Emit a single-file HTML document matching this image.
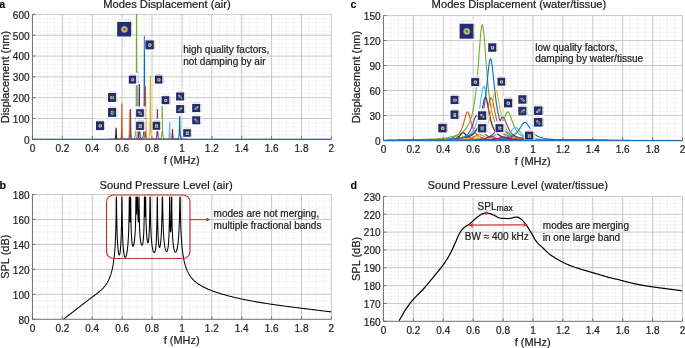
<!DOCTYPE html>
<html><head><meta charset="utf-8"><style>
html,body{margin:0;padding:0;background:#fff;}
body{width:685px;height:348px;overflow:hidden;}
svg{display:block;will-change:transform;}
text{font-family:"Liberation Sans", sans-serif;fill:#222;stroke:#222;stroke-width:0.22;}
.tl{font-size:10px;}
.an{font-size:10px;}
.ti{font-size:11.2px;fill:#1a1a1a;}
.xl{font-size:11px;}
.pl{font-size:10.7px;font-weight:bold;fill:#000;stroke-width:0.1;stroke:#000;}
.mj{stroke:#bababa;stroke-width:0.8;}
.mn{stroke:#e6e6e6;stroke-width:0.6;stroke-dasharray:2.2 1.2;}
.ax{stroke:#707070;stroke-width:1.0;}
.tk{stroke:#5a5a5a;stroke-width:0.8;}
</style></head><body>
<svg width="685" height="348" viewBox="0 0 685 348">
<defs>
<radialGradient id="spot"><stop offset="0" stop-color="#c41a1a"/><stop offset="0.22" stop-color="#e0561c"/><stop offset="0.45" stop-color="#e6c832"/><stop offset="0.62" stop-color="#66c4b0"/><stop offset="0.8" stop-color="#3a6cc0"/><stop offset="1" stop-color="#282a6d" stop-opacity="0"/></radialGradient>
<radialGradient id="spot2"><stop offset="0" stop-color="#d9481c"/><stop offset="0.4" stop-color="#e2b52c"/><stop offset="0.75" stop-color="#7cc48c"/><stop offset="1" stop-color="#5c9ac0" stop-opacity="0"/></radialGradient>
<radialGradient id="halo"><stop offset="0" stop-color="#6fb9b4"/><stop offset="0.6" stop-color="#3f72b8"/><stop offset="1" stop-color="#282a6d" stop-opacity="0"/></radialGradient>
<linearGradient id="cbar" x1="0" y1="0" x2="0" y2="1"><stop offset="0" stop-color="#eba8a8"/><stop offset="0.3" stop-color="#f3e29c"/><stop offset="0.55" stop-color="#c8ecc0"/><stop offset="0.75" stop-color="#ace0ee"/><stop offset="1" stop-color="#b4b8e2"/></linearGradient>
</defs>
<line x1="39.92" y1="14.4" x2="39.92" y2="139.35" class="mn"/>
<line x1="47.4" y1="14.4" x2="47.4" y2="139.35" class="mn"/>
<line x1="54.87" y1="14.4" x2="54.87" y2="139.35" class="mn"/>
<line x1="69.82" y1="14.4" x2="69.82" y2="139.35" class="mn"/>
<line x1="77.29" y1="14.4" x2="77.29" y2="139.35" class="mn"/>
<line x1="84.77" y1="14.4" x2="84.77" y2="139.35" class="mn"/>
<line x1="99.71" y1="14.4" x2="99.71" y2="139.35" class="mn"/>
<line x1="107.19" y1="14.4" x2="107.19" y2="139.35" class="mn"/>
<line x1="114.66" y1="14.4" x2="114.66" y2="139.35" class="mn"/>
<line x1="129.61" y1="14.4" x2="129.61" y2="139.35" class="mn"/>
<line x1="137.08" y1="14.4" x2="137.08" y2="139.35" class="mn"/>
<line x1="144.56" y1="14.4" x2="144.56" y2="139.35" class="mn"/>
<line x1="159.5" y1="14.4" x2="159.5" y2="139.35" class="mn"/>
<line x1="166.98" y1="14.4" x2="166.98" y2="139.35" class="mn"/>
<line x1="174.45" y1="14.4" x2="174.45" y2="139.35" class="mn"/>
<line x1="189.4" y1="14.4" x2="189.4" y2="139.35" class="mn"/>
<line x1="196.87" y1="14.4" x2="196.87" y2="139.35" class="mn"/>
<line x1="204.35" y1="14.4" x2="204.35" y2="139.35" class="mn"/>
<line x1="219.29" y1="14.4" x2="219.29" y2="139.35" class="mn"/>
<line x1="226.77" y1="14.4" x2="226.77" y2="139.35" class="mn"/>
<line x1="234.24" y1="14.4" x2="234.24" y2="139.35" class="mn"/>
<line x1="249.19" y1="14.4" x2="249.19" y2="139.35" class="mn"/>
<line x1="256.66" y1="14.4" x2="256.66" y2="139.35" class="mn"/>
<line x1="264.14" y1="14.4" x2="264.14" y2="139.35" class="mn"/>
<line x1="279.08" y1="14.4" x2="279.08" y2="139.35" class="mn"/>
<line x1="286.56" y1="14.4" x2="286.56" y2="139.35" class="mn"/>
<line x1="294.03" y1="14.4" x2="294.03" y2="139.35" class="mn"/>
<line x1="308.98" y1="14.4" x2="308.98" y2="139.35" class="mn"/>
<line x1="316.45" y1="14.4" x2="316.45" y2="139.35" class="mn"/>
<line x1="323.93" y1="14.4" x2="323.93" y2="139.35" class="mn"/>
<line x1="32.45" y1="135.19" x2="331.4" y2="135.19" class="mn"/>
<line x1="32.45" y1="131.02" x2="331.4" y2="131.02" class="mn"/>
<line x1="32.45" y1="126.85" x2="331.4" y2="126.85" class="mn"/>
<line x1="32.45" y1="122.69" x2="331.4" y2="122.69" class="mn"/>
<line x1="32.45" y1="114.36" x2="331.4" y2="114.36" class="mn"/>
<line x1="32.45" y1="110.19" x2="331.4" y2="110.19" class="mn"/>
<line x1="32.45" y1="106.03" x2="331.4" y2="106.03" class="mn"/>
<line x1="32.45" y1="101.87" x2="331.4" y2="101.87" class="mn"/>
<line x1="32.45" y1="93.53" x2="331.4" y2="93.53" class="mn"/>
<line x1="32.45" y1="89.37" x2="331.4" y2="89.37" class="mn"/>
<line x1="32.45" y1="85.2" x2="331.4" y2="85.2" class="mn"/>
<line x1="32.45" y1="81.04" x2="331.4" y2="81.04" class="mn"/>
<line x1="32.45" y1="72.71" x2="331.4" y2="72.71" class="mn"/>
<line x1="32.45" y1="68.55" x2="331.4" y2="68.55" class="mn"/>
<line x1="32.45" y1="64.38" x2="331.4" y2="64.38" class="mn"/>
<line x1="32.45" y1="60.22" x2="331.4" y2="60.22" class="mn"/>
<line x1="32.45" y1="51.89" x2="331.4" y2="51.89" class="mn"/>
<line x1="32.45" y1="47.72" x2="331.4" y2="47.72" class="mn"/>
<line x1="32.45" y1="43.55" x2="331.4" y2="43.55" class="mn"/>
<line x1="32.45" y1="39.39" x2="331.4" y2="39.39" class="mn"/>
<line x1="32.45" y1="31.06" x2="331.4" y2="31.06" class="mn"/>
<line x1="32.45" y1="26.89" x2="331.4" y2="26.89" class="mn"/>
<line x1="32.45" y1="22.73" x2="331.4" y2="22.73" class="mn"/>
<line x1="32.45" y1="18.56" x2="331.4" y2="18.56" class="mn"/>
<line x1="62.34" y1="14.4" x2="62.34" y2="139.35" class="mj"/>
<line x1="92.24" y1="14.4" x2="92.24" y2="139.35" class="mj"/>
<line x1="122.14" y1="14.4" x2="122.14" y2="139.35" class="mj"/>
<line x1="152.03" y1="14.4" x2="152.03" y2="139.35" class="mj"/>
<line x1="181.93" y1="14.4" x2="181.93" y2="139.35" class="mj"/>
<line x1="211.82" y1="14.4" x2="211.82" y2="139.35" class="mj"/>
<line x1="241.72" y1="14.4" x2="241.72" y2="139.35" class="mj"/>
<line x1="271.61" y1="14.4" x2="271.61" y2="139.35" class="mj"/>
<line x1="301.5" y1="14.4" x2="301.5" y2="139.35" class="mj"/>
<line x1="331.4" y1="14.4" x2="331.4" y2="139.35" class="mj"/>
<line x1="32.45" y1="118.53" x2="331.4" y2="118.53" class="mj"/>
<line x1="32.45" y1="97.7" x2="331.4" y2="97.7" class="mj"/>
<line x1="32.45" y1="76.88" x2="331.4" y2="76.88" class="mj"/>
<line x1="32.45" y1="56.05" x2="331.4" y2="56.05" class="mj"/>
<line x1="32.45" y1="35.22" x2="331.4" y2="35.22" class="mj"/>
<line x1="32.45" y1="14.4" x2="331.4" y2="14.4" class="mj"/>
<path d="M108.61,139.35 L113.89,139.29 L114.80,139.19 L115.18,139.03 L115.39,138.82 L115.52,138.56 L115.61,138.25 L115.68,137.90 L115.73,137.50 L115.78,137.08 L115.81,136.62 L115.84,136.13 L115.87,135.62 L115.89,135.10 L115.91,134.57 L115.92,134.03 L115.94,133.50 L115.95,132.97 L115.97,132.45 L115.98,131.95 L115.99,131.48 L116.00,131.03 L116.01,130.62 L116.02,130.24 L116.03,129.91 L116.04,129.62 L116.05,129.38 L116.06,129.19 L116.06,129.05 L116.07,128.97 L116.08,128.94 L116.09,128.97 L116.10,129.05 L116.11,129.19 L116.11,129.38 L116.12,129.62 L116.13,129.91 L116.14,130.24 L116.15,130.62 L116.16,131.03 L116.17,131.48 L116.18,131.95 L116.20,132.45 L116.21,132.97 L116.22,133.50 L116.24,134.03 L116.26,134.57 L116.27,135.10 L116.30,135.62 L116.32,136.13 L116.35,136.62 L116.39,137.08 L116.43,137.50 L116.48,137.90 L116.55,138.25 L116.64,138.56 L116.77,138.82 L116.98,139.03 L117.36,139.19 L118.28,139.29 L123.56,139.35" fill="none" stroke="#000000" stroke-width="1.1"/>
<path d="M114.36,139.33 L119.54,139.15 L120.48,138.78 L120.88,138.22 L121.10,137.49 L121.24,136.58 L121.34,135.51 L121.41,134.29 L121.47,132.93 L121.51,131.45 L121.55,129.86 L121.58,128.18 L121.61,126.43 L121.63,124.62 L121.65,122.78 L121.67,120.92 L121.68,119.07 L121.70,117.24 L121.71,115.46 L121.73,113.73 L121.74,112.09 L121.75,110.55 L121.76,109.12 L121.77,107.82 L121.78,106.67 L121.79,105.67 L121.80,104.84 L121.81,104.18 L121.82,103.70 L121.83,103.42 L121.84,103.32 L121.84,103.42 L121.85,103.70 L121.86,104.18 L121.87,104.84 L121.88,105.67 L121.89,106.67 L121.90,107.82 L121.91,109.12 L121.92,110.55 L121.93,112.09 L121.95,113.73 L121.96,115.46 L121.97,117.24 L121.99,119.07 L122.00,120.92 L122.02,122.78 L122.04,124.62 L122.07,126.43 L122.09,128.18 L122.12,129.86 L122.16,131.45 L122.21,132.93 L122.26,134.29 L122.33,135.51 L122.43,136.58 L122.57,137.49 L122.79,138.22 L123.19,138.78 L124.14,139.15 L129.31,139.33" fill="none" stroke="#D95319" stroke-width="1.1"/>
<path d="M121.99,139.33 L127.02,139.18 L128.01,138.88 L128.43,138.43 L128.67,137.83 L128.82,137.10 L128.92,136.24 L129.00,135.25 L129.06,134.16 L129.11,132.97 L129.15,131.69 L129.18,130.34 L129.21,128.93 L129.24,127.48 L129.26,126.01 L129.28,124.52 L129.30,123.03 L129.31,121.56 L129.33,120.13 L129.34,118.75 L129.35,117.43 L129.37,116.20 L129.38,115.05 L129.39,114.01 L129.40,113.08 L129.41,112.28 L129.42,111.62 L129.43,111.09 L129.44,110.71 L129.45,110.48 L129.46,110.40 L129.47,110.48 L129.48,110.71 L129.49,111.09 L129.50,111.62 L129.51,112.28 L129.52,113.08 L129.53,114.01 L129.54,115.05 L129.55,116.20 L129.56,117.43 L129.58,118.75 L129.59,120.13 L129.61,121.56 L129.62,123.03 L129.64,124.52 L129.66,126.01 L129.68,127.48 L129.71,128.93 L129.74,130.34 L129.77,131.69 L129.81,132.97 L129.86,134.16 L129.92,135.25 L130.00,136.24 L130.10,137.10 L130.25,137.83 L130.49,138.43 L130.91,138.88 L131.89,139.18 L136.93,139.33" fill="none" stroke="#EDB120" stroke-width="1.1"/>
<path d="M123.03,139.33 L128.05,139.17 L129.04,138.85 L129.47,138.38 L129.70,137.75 L129.86,136.98 L129.96,136.08 L130.04,135.04 L130.10,133.90 L130.15,132.64 L130.19,131.30 L130.23,129.88 L130.25,128.41 L130.28,126.88 L130.30,125.33 L130.32,123.76 L130.34,122.20 L130.36,120.66 L130.37,119.16 L130.39,117.71 L130.40,116.33 L130.41,115.03 L130.42,113.82 L130.43,112.73 L130.45,111.76 L130.46,110.92 L130.47,110.22 L130.48,109.67 L130.49,109.27 L130.50,109.03 L130.51,108.95 L130.52,109.03 L130.53,109.27 L130.53,109.67 L130.55,110.22 L130.56,110.92 L130.57,111.76 L130.58,112.73 L130.59,113.82 L130.60,115.03 L130.61,116.33 L130.63,117.71 L130.64,119.16 L130.65,120.66 L130.67,122.20 L130.69,123.76 L130.71,125.33 L130.73,126.88 L130.76,128.41 L130.79,129.88 L130.82,131.30 L130.86,132.64 L130.91,133.90 L130.97,135.04 L131.05,136.08 L131.15,136.98 L131.31,137.75 L131.54,138.38 L131.97,138.85 L132.96,139.17 L137.98,139.33" fill="none" stroke="#7E2F8E" stroke-width="1.1"/>
<path d="M129.09,139.25 L134.01,138.46 L135.02,136.91 L135.47,134.62 L135.71,131.60 L135.87,127.90 L135.99,123.54 L136.07,118.58 L136.13,113.07 L136.18,107.06 L136.23,100.63 L136.26,93.83 L136.29,86.75 L136.32,79.45 L136.34,72.01 L136.36,64.51 L136.38,57.03 L136.40,49.66 L136.42,42.46 L136.43,35.51 L136.45,28.90 L136.46,22.68 L136.47,16.92 L136.48,14.40 L136.50,14.40 L136.51,14.40 L136.52,14.40 L136.53,14.40 L136.54,14.40 L136.55,14.40 L136.56,14.40 L136.57,14.40 L136.58,14.40 L136.59,14.40 L136.60,14.40 L136.61,14.40 L136.62,14.40 L136.63,14.40 L136.65,16.92 L136.66,22.68 L136.67,28.90 L136.69,35.51 L136.70,42.46 L136.72,49.66 L136.74,57.03 L136.75,64.51 L136.78,72.01 L136.80,79.45 L136.83,86.75 L136.86,93.83 L136.89,100.63 L136.93,107.06 L136.99,113.07 L137.05,118.58 L137.13,123.54 L137.24,127.90 L137.40,131.60 L137.65,134.62 L138.09,136.91 L139.11,138.46 L144.03,139.25" fill="none" stroke="#77AC30" stroke-width="1.1"/>
<path d="M130.33,139.30 L135.23,138.93 L136.25,138.21 L136.70,137.14 L136.95,135.73 L137.11,134.01 L137.22,131.98 L137.30,129.67 L137.37,127.10 L137.42,124.30 L137.46,121.30 L137.50,118.14 L137.53,114.84 L137.56,111.44 L137.58,107.98 L137.60,104.49 L137.62,101.00 L137.64,97.57 L137.66,94.22 L137.67,90.99 L137.69,87.90 L137.70,85.01 L137.71,82.33 L137.72,79.89 L137.74,77.73 L137.75,75.86 L137.76,74.30 L137.77,73.07 L137.78,72.18 L137.79,71.64 L137.80,71.46 L137.81,71.64 L137.82,72.18 L137.83,73.07 L137.84,74.30 L137.85,75.86 L137.86,77.73 L137.88,79.89 L137.89,82.33 L137.90,85.01 L137.91,87.90 L137.93,90.99 L137.94,94.22 L137.96,97.57 L137.98,101.00 L138.00,104.49 L138.02,107.98 L138.04,111.44 L138.07,114.84 L138.10,118.14 L138.14,121.30 L138.18,124.30 L138.23,127.10 L138.30,129.67 L138.38,131.98 L138.49,134.01 L138.65,135.73 L138.90,137.14 L139.35,138.21 L140.37,138.93 L145.27,139.30" fill="none" stroke="#4DBEEE" stroke-width="1.1"/>
<path d="M131.93,139.31 L136.80,139.01 L137.83,138.41 L138.28,137.54 L138.53,136.39 L138.70,134.98 L138.81,133.32 L138.90,131.44 L138.96,129.34 L139.01,127.06 L139.06,124.61 L139.09,122.03 L139.13,119.34 L139.15,116.56 L139.18,113.74 L139.20,110.89 L139.22,108.05 L139.24,105.25 L139.25,102.52 L139.27,99.88 L139.28,97.37 L139.30,95.01 L139.31,92.82 L139.32,90.83 L139.33,89.07 L139.35,87.54 L139.36,86.27 L139.37,85.26 L139.38,84.54 L139.39,84.10 L139.40,83.96 L139.41,84.10 L139.42,84.54 L139.43,85.26 L139.44,86.27 L139.45,87.54 L139.46,89.07 L139.48,90.83 L139.49,92.82 L139.50,95.01 L139.52,97.37 L139.53,99.88 L139.55,102.52 L139.56,105.25 L139.58,108.05 L139.60,110.89 L139.62,113.74 L139.65,116.56 L139.67,119.34 L139.70,122.03 L139.74,124.61 L139.78,127.06 L139.84,129.34 L139.90,131.44 L139.99,133.32 L140.10,134.98 L140.26,136.39 L140.52,137.54 L140.97,138.41 L142.00,139.01 L146.87,139.31" fill="none" stroke="#A2142F" stroke-width="1.1"/>
<path d="M136.93,139.26 L141.73,138.69 L142.78,137.58 L143.24,135.94 L143.51,133.79 L143.67,131.16 L143.79,128.07 L143.88,124.55 L143.95,120.65 L144.00,116.40 L144.05,111.85 L144.09,107.04 L144.12,102.03 L144.15,96.87 L144.17,91.62 L144.20,86.32 L144.22,81.04 L144.24,75.84 L144.25,70.76 L144.27,65.85 L144.29,61.18 L144.30,56.80 L144.31,52.74 L144.33,49.05 L144.34,45.76 L144.35,42.93 L144.36,40.56 L144.37,38.70 L144.38,37.35 L144.40,36.54 L144.41,36.27 L144.42,36.54 L144.43,37.35 L144.44,38.70 L144.45,40.56 L144.46,42.93 L144.48,45.76 L144.49,49.05 L144.50,52.74 L144.51,56.80 L144.53,61.18 L144.54,65.85 L144.56,70.76 L144.58,75.84 L144.60,81.04 L144.62,86.32 L144.64,91.62 L144.66,96.87 L144.69,102.03 L144.73,107.04 L144.76,111.85 L144.81,116.40 L144.86,120.65 L144.93,124.55 L145.02,128.07 L145.14,131.16 L145.31,133.79 L145.57,135.94 L146.03,137.58 L147.09,138.69 L151.88,139.26" fill="none" stroke="#0072BD" stroke-width="1.1"/>
<path d="M137.98,139.31 L142.76,139.01 L143.81,138.43 L144.28,137.59 L144.54,136.48 L144.71,135.12 L144.83,133.53 L144.92,131.72 L144.99,129.71 L145.05,127.52 L145.09,125.17 L145.13,122.70 L145.16,120.12 L145.19,117.46 L145.22,114.75 L145.24,112.03 L145.26,109.31 L145.28,106.63 L145.30,104.01 L145.32,101.48 L145.33,99.08 L145.34,96.82 L145.36,94.73 L145.37,92.83 L145.38,91.14 L145.40,89.68 L145.41,88.46 L145.42,87.50 L145.43,86.81 L145.44,86.39 L145.45,86.25 L145.46,86.39 L145.48,86.81 L145.49,87.50 L145.50,88.46 L145.51,89.68 L145.52,91.14 L145.53,92.83 L145.55,94.73 L145.56,96.82 L145.58,99.08 L145.59,101.48 L145.61,104.01 L145.62,106.63 L145.64,109.31 L145.66,112.03 L145.69,114.75 L145.71,117.46 L145.74,120.12 L145.77,122.70 L145.81,125.17 L145.86,127.52 L145.91,129.71 L145.98,131.72 L146.07,133.53 L146.19,135.12 L146.36,136.48 L146.63,137.59 L147.09,138.43 L148.15,139.01 L152.93,139.31" fill="none" stroke="#D95319" stroke-width="1.1"/>
<path d="M142.91,139.29 L147.62,138.92 L148.69,138.23 L149.17,137.20 L149.44,135.86 L149.62,134.22 L149.74,132.30 L149.83,130.12 L149.91,127.70 L149.96,125.06 L150.01,122.23 L150.05,119.25 L150.09,116.15 L150.12,112.95 L150.14,109.69 L150.17,106.41 L150.19,103.14 L150.21,99.92 L150.23,96.77 L150.24,93.74 L150.26,90.84 L150.27,88.13 L150.29,85.61 L150.30,83.33 L150.31,81.30 L150.33,79.54 L150.34,78.08 L150.35,76.92 L150.36,76.09 L150.37,75.59 L150.39,75.42 L150.40,75.59 L150.41,76.09 L150.42,76.92 L150.43,78.08 L150.45,79.54 L150.46,81.30 L150.47,83.33 L150.48,85.61 L150.50,88.13 L150.51,90.84 L150.53,93.74 L150.55,96.77 L150.56,99.92 L150.58,103.14 L150.61,106.41 L150.63,109.69 L150.66,112.95 L150.69,116.15 L150.72,119.25 L150.76,122.23 L150.81,125.06 L150.87,127.70 L150.94,130.12 L151.03,132.30 L151.15,134.22 L151.33,135.86 L151.60,137.20 L152.08,138.23 L153.16,138.92 L157.86,139.29" fill="none" stroke="#EDB120" stroke-width="1.1"/>
<path d="M149.94,139.32 L154.54,139.14 L155.64,138.81 L156.13,138.32 L156.42,137.68 L156.60,136.90 L156.73,135.99 L156.83,134.96 L156.90,133.81 L156.96,132.57 L157.01,131.23 L157.06,129.83 L157.09,128.36 L157.13,126.85 L157.15,125.31 L157.18,123.77 L157.20,122.22 L157.22,120.70 L157.24,119.22 L157.26,117.79 L157.28,116.42 L157.29,115.14 L157.31,113.96 L157.32,112.88 L157.33,111.92 L157.35,111.10 L157.36,110.41 L157.37,109.86 L157.39,109.47 L157.40,109.23 L157.41,109.15 L157.42,109.23 L157.44,109.47 L157.45,109.86 L157.46,110.41 L157.47,111.10 L157.49,111.92 L157.50,112.88 L157.52,113.96 L157.53,115.14 L157.55,116.42 L157.56,117.79 L157.58,119.22 L157.60,120.70 L157.62,122.22 L157.64,123.77 L157.67,125.31 L157.70,126.85 L157.73,128.36 L157.77,129.83 L157.81,131.23 L157.86,132.57 L157.92,133.81 L157.99,134.96 L158.09,135.99 L158.22,136.90 L158.40,137.68 L158.69,138.32 L159.18,138.81 L160.28,139.14 L164.88,139.32" fill="none" stroke="#7E2F8E" stroke-width="1.1"/>
<path d="M154.72,139.31 L159.25,139.11 L160.37,138.73 L160.88,138.19 L161.17,137.48 L161.36,136.62 L161.49,135.60 L161.59,134.45 L161.67,133.18 L161.73,131.80 L161.78,130.31 L161.83,128.75 L161.86,127.12 L161.90,125.45 L161.93,123.74 L161.95,122.03 L161.98,120.32 L162.00,118.63 L162.02,116.98 L162.04,115.39 L162.05,113.88 L162.07,112.46 L162.09,111.15 L162.10,109.95 L162.12,108.89 L162.13,107.98 L162.14,107.21 L162.16,106.61 L162.17,106.17 L162.18,105.91 L162.19,105.82 L162.21,105.91 L162.22,106.17 L162.23,106.61 L162.25,107.21 L162.26,107.98 L162.27,108.89 L162.29,109.95 L162.30,111.15 L162.32,112.46 L162.33,113.88 L162.35,115.39 L162.37,116.98 L162.39,118.63 L162.41,120.32 L162.44,122.03 L162.46,123.74 L162.49,125.45 L162.52,127.12 L162.56,128.75 L162.61,130.31 L162.66,131.80 L162.72,133.18 L162.80,134.45 L162.90,135.60 L163.03,136.62 L163.22,137.48 L163.51,138.19 L164.02,138.73 L165.14,139.11 L169.67,139.31" fill="none" stroke="#77AC30" stroke-width="1.1"/>
<path d="M162.19,139.33 L166.62,139.22 L167.76,139.03 L168.29,138.76 L168.59,138.40 L168.79,137.96 L168.93,137.45 L169.03,136.87 L169.11,136.23 L169.18,135.53 L169.23,134.78 L169.28,134.00 L169.32,133.18 L169.36,132.34 L169.39,131.48 L169.41,130.62 L169.44,129.76 L169.46,128.91 L169.48,128.08 L169.50,127.29 L169.52,126.53 L169.54,125.82 L169.55,125.16 L169.57,124.56 L169.58,124.02 L169.60,123.56 L169.61,123.18 L169.63,122.88 L169.64,122.66 L169.65,122.53 L169.67,122.48 L169.68,122.53 L169.70,122.66 L169.71,122.88 L169.72,123.18 L169.74,123.56 L169.75,124.02 L169.77,124.56 L169.78,125.16 L169.80,125.82 L169.82,126.53 L169.83,127.29 L169.85,128.08 L169.88,128.91 L169.90,129.76 L169.92,130.62 L169.95,131.48 L169.98,132.34 L170.02,133.18 L170.06,134.00 L170.10,134.78 L170.16,135.53 L170.22,136.23 L170.30,136.87 L170.41,137.45 L170.55,137.96 L170.75,138.40 L171.05,138.76 L171.57,139.03 L172.71,139.22 L177.14,139.33" fill="none" stroke="#4DBEEE" stroke-width="1.1"/>
<path d="M165.03,139.34 L169.43,139.28 L170.57,139.17 L171.10,139.01 L171.41,138.81 L171.61,138.56 L171.75,138.27 L171.86,137.94 L171.94,137.57 L172.01,137.18 L172.07,136.75 L172.11,136.31 L172.15,135.84 L172.19,135.36 L172.22,134.88 L172.25,134.39 L172.27,133.90 L172.30,133.42 L172.32,132.95 L172.34,132.50 L172.36,132.07 L172.37,131.66 L172.39,131.29 L172.41,130.95 L172.42,130.65 L172.44,130.38 L172.45,130.17 L172.47,129.99 L172.48,129.87 L172.49,129.80 L172.51,129.77 L172.52,129.80 L172.54,129.87 L172.55,129.99 L172.56,130.17 L172.58,130.38 L172.59,130.65 L172.61,130.95 L172.62,131.29 L172.64,131.66 L172.66,132.07 L172.68,132.50 L172.70,132.95 L172.72,133.42 L172.74,133.90 L172.77,134.39 L172.80,134.88 L172.83,135.36 L172.86,135.84 L172.90,136.31 L172.95,136.75 L173.01,137.18 L173.07,137.57 L173.16,137.94 L173.26,138.27 L173.40,138.56 L173.61,138.81 L173.91,139.01 L174.44,139.17 L175.59,139.28 L179.98,139.34" fill="none" stroke="#A2142F" stroke-width="1.1"/>
<path d="M172.21,139.32 L176.51,139.17 L177.67,138.90 L178.22,138.51 L178.54,138.01 L178.75,137.40 L178.89,136.69 L179.00,135.89 L179.09,135.00 L179.16,134.03 L179.22,133.00 L179.27,131.92 L179.31,130.78 L179.35,129.62 L179.38,128.44 L179.41,127.25 L179.44,126.06 L179.46,124.89 L179.48,123.75 L179.50,122.65 L179.52,121.60 L179.54,120.62 L179.56,119.71 L179.58,118.88 L179.59,118.15 L179.61,117.52 L179.62,116.99 L179.64,116.57 L179.65,116.27 L179.67,116.09 L179.68,116.03 L179.70,116.09 L179.71,116.27 L179.73,116.57 L179.74,116.99 L179.76,117.52 L179.77,118.15 L179.79,118.88 L179.81,119.71 L179.82,120.62 L179.84,121.60 L179.86,122.65 L179.88,123.75 L179.90,124.89 L179.93,126.06 L179.96,127.25 L179.98,128.44 L180.02,129.62 L180.05,130.78 L180.10,131.92 L180.15,133.00 L180.20,134.03 L180.27,135.00 L180.36,135.89 L180.47,136.69 L180.62,137.40 L180.83,138.01 L181.15,138.51 L181.69,138.90 L182.86,139.17 L187.16,139.32" fill="none" stroke="#0072BD" stroke-width="1.1"/>
<rect x="116.6" y="17.7" width="16.4" height="20.2" fill="#fff"/>
<rect x="118.4" y="18.9" width="12.8" height="0.7" fill="#cfcfcf"/>
<rect x="117.2" y="21.9" width="14" height="14.6" fill="#282a6d"/>
<rect x="131.35" y="22.5" width="1.2" height="13.4" fill="url(#cbar)"/>
<circle cx="124.4" cy="29.4" r="4.3" fill="url(#spot)"/>
<rect x="144.8" y="37.6" width="10.8" height="13.2" fill="#fff"/>
<rect x="146.6" y="38.8" width="7.2" height="0.7" fill="#cfcfcf"/>
<rect x="145.4" y="40.4" width="8.4" height="9" fill="#282a6d"/>
<rect x="153.95" y="41" width="1.2" height="7.8" fill="url(#cbar)"/>
<circle cx="149.8" cy="45.1" r="2.47" fill="url(#spot)"/>
<rect x="128.2" y="72.8" width="9.8" height="12.2" fill="#fff"/>
<rect x="130" y="74" width="6.2" height="0.7" fill="#cfcfcf"/>
<rect x="128.8" y="75.6" width="7.4" height="8" fill="#282a6d"/>
<rect x="136.35" y="76.2" width="1.2" height="6.8" fill="url(#cbar)"/>
<circle cx="132.7" cy="79.8" r="2.18" fill="url(#spot)"/>
<rect x="154.3" y="72.8" width="10" height="12.2" fill="#fff"/>
<rect x="156.1" y="74" width="6.4" height="0.7" fill="#cfcfcf"/>
<rect x="154.9" y="75.6" width="7.6" height="8" fill="#282a6d"/>
<rect x="162.65" y="76.2" width="1.2" height="6.8" fill="url(#cbar)"/>
<circle cx="158.9" cy="79.8" r="2.24" fill="url(#spot)"/>
<rect x="107.4" y="90.1" width="10.5" height="13.2" fill="#fff"/>
<rect x="109.2" y="91.3" width="6.9" height="0.7" fill="#cfcfcf"/>
<rect x="108" y="92.9" width="8.1" height="9" fill="#282a6d"/>
<rect x="116.25" y="93.5" width="1.2" height="7.8" fill="url(#cbar)"/>
<ellipse cx="112.25" cy="97.6" rx="2.67" ry="2.67" fill="url(#halo)"/>
<ellipse cx="111.15" cy="97.6" rx="1.29" ry="2" fill="url(#spot)"/>
<ellipse cx="113.35" cy="97.6" rx="1.29" ry="2" fill="url(#spot)"/>
<rect x="161" y="93.4" width="10.2" height="12.2" fill="#fff"/>
<rect x="162.8" y="94.6" width="6.6" height="0.7" fill="#cfcfcf"/>
<rect x="161.6" y="96.2" width="7.8" height="8" fill="#282a6d"/>
<rect x="169.55" y="96.8" width="1.2" height="6.8" fill="url(#cbar)"/>
<circle cx="165.7" cy="100.4" r="2.29" fill="url(#spot)"/>
<rect x="175.5" y="89.7" width="10.4" height="12.2" fill="#fff"/>
<rect x="177.3" y="90.9" width="6.8" height="0.7" fill="#cfcfcf"/>
<rect x="176.1" y="92.5" width="8" height="8" fill="#282a6d"/>
<rect x="184.25" y="93.1" width="1.2" height="6.8" fill="url(#cbar)"/>
<circle cx="180.3" cy="96.7" r="2.64" fill="url(#halo)" opacity="0.7"/>
<circle cx="179.22" cy="95.62" r="1.27" fill="url(#spot2)"/>
<circle cx="181.38" cy="97.78" r="1.27" fill="url(#spot)"/>
<rect x="107.4" y="105.1" width="10.5" height="13.2" fill="#fff"/>
<rect x="109.2" y="106.3" width="6.9" height="0.7" fill="#cfcfcf"/>
<rect x="108" y="107.9" width="8.1" height="9" fill="#282a6d"/>
<rect x="116.25" y="108.5" width="1.2" height="7.8" fill="url(#cbar)"/>
<ellipse cx="112.25" cy="112.6" rx="2.67" ry="2.67" fill="url(#halo)"/>
<ellipse cx="112.25" cy="111.5" rx="1.91" ry="1.29" fill="url(#spot)"/>
<ellipse cx="112.25" cy="113.7" rx="1.91" ry="1.29" fill="url(#spot)"/>
<rect x="135.5" y="106.4" width="10.2" height="11.8" fill="#fff"/>
<rect x="137.3" y="107.6" width="6.6" height="0.7" fill="#cfcfcf"/>
<rect x="136.1" y="109.2" width="7.8" height="7.6" fill="#282a6d"/>
<rect x="144.05" y="109.8" width="1.2" height="6.4" fill="url(#cbar)"/>
<circle cx="140.2" cy="113.2" r="2.5" fill="url(#halo)" opacity="0.7"/>
<circle cx="139.17" cy="112.17" r="1.21" fill="url(#spot2)"/>
<circle cx="141.23" cy="114.23" r="1.21" fill="url(#spot)"/>
<rect x="175.5" y="102.3" width="10.4" height="12.2" fill="#fff"/>
<rect x="177.3" y="103.5" width="6.8" height="0.7" fill="#cfcfcf"/>
<rect x="176.1" y="105.1" width="8" height="8" fill="#282a6d"/>
<rect x="184.25" y="105.7" width="1.2" height="6.8" fill="url(#cbar)"/>
<circle cx="180.3" cy="109.3" r="2.64" fill="url(#halo)" opacity="0.7"/>
<circle cx="181.38" cy="108.22" r="1.27" fill="url(#spot2)"/>
<circle cx="179.22" cy="110.38" r="1.27" fill="url(#spot)"/>
<rect x="191.6" y="101.1" width="10.4" height="12.4" fill="#fff"/>
<rect x="193.4" y="102.3" width="6.8" height="0.7" fill="#cfcfcf"/>
<rect x="192.2" y="103.9" width="8" height="8.2" fill="#282a6d"/>
<rect x="200.35" y="104.5" width="1.2" height="7" fill="url(#cbar)"/>
<circle cx="196.4" cy="108.2" r="2.64" fill="url(#halo)" opacity="0.7"/>
<circle cx="197.48" cy="107.12" r="1.27" fill="url(#spot2)"/>
<circle cx="195.32" cy="109.28" r="1.27" fill="url(#spot)"/>
<rect x="95.4" y="118.5" width="10.4" height="13" fill="#fff"/>
<rect x="97.2" y="119.7" width="6.8" height="0.7" fill="#cfcfcf"/>
<rect x="96" y="121.3" width="8" height="8.8" fill="#282a6d"/>
<rect x="104.15" y="121.9" width="1.2" height="7.6" fill="url(#cbar)"/>
<circle cx="100.2" cy="125.9" r="2.35" fill="url(#spot)"/>
<rect x="135.5" y="118.9" width="10.2" height="12.5" fill="#fff"/>
<rect x="137.3" y="120.1" width="6.6" height="0.7" fill="#cfcfcf"/>
<rect x="136.1" y="121.7" width="7.8" height="8.3" fill="#282a6d"/>
<rect x="144.05" y="122.3" width="1.2" height="7.1" fill="url(#cbar)"/>
<ellipse cx="140.2" cy="126.05" rx="2.39" ry="2.57" fill="url(#halo)"/>
<circle cx="139.19" cy="124.95" r="1.01" fill="url(#spot2)"/>
<circle cx="139.19" cy="127.15" r="1.01" fill="url(#spot2)"/>
<circle cx="141.21" cy="124.95" r="1.01" fill="url(#spot2)"/>
<circle cx="141.21" cy="127.15" r="1.01" fill="url(#spot2)"/>
<rect x="152" y="118.9" width="10" height="12.3" fill="#fff"/>
<rect x="153.8" y="120.1" width="6.4" height="0.7" fill="#cfcfcf"/>
<rect x="152.6" y="121.7" width="7.6" height="8.1" fill="#282a6d"/>
<rect x="160.35" y="122.3" width="1.2" height="6.9" fill="url(#cbar)"/>
<ellipse cx="156.6" cy="125.95" rx="2.32" ry="2.5" fill="url(#halo)"/>
<circle cx="155.62" cy="124.88" r="0.98" fill="url(#spot2)"/>
<circle cx="155.62" cy="127.02" r="0.98" fill="url(#spot2)"/>
<circle cx="157.58" cy="124.88" r="0.98" fill="url(#spot2)"/>
<circle cx="157.58" cy="127.02" r="0.98" fill="url(#spot2)"/>
<rect x="191.6" y="113.5" width="10.4" height="12.2" fill="#fff"/>
<rect x="193.4" y="114.7" width="6.8" height="0.7" fill="#cfcfcf"/>
<rect x="192.2" y="116.3" width="8" height="8" fill="#282a6d"/>
<rect x="200.35" y="116.9" width="1.2" height="6.8" fill="url(#cbar)"/>
<circle cx="196.4" cy="120.5" r="2.64" fill="url(#halo)" opacity="0.7"/>
<circle cx="195.32" cy="119.42" r="1.27" fill="url(#spot2)"/>
<circle cx="197.48" cy="121.58" r="1.27" fill="url(#spot)"/>
<rect x="182.6" y="126.4" width="10" height="11.8" fill="#fff"/>
<rect x="184.4" y="127.6" width="6.4" height="0.7" fill="#cfcfcf"/>
<rect x="183.2" y="129.2" width="7.6" height="7.6" fill="#282a6d"/>
<rect x="190.95" y="129.8" width="1.2" height="6.4" fill="url(#cbar)"/>
<ellipse cx="187.2" cy="133.2" rx="2.32" ry="2.5" fill="url(#halo)"/>
<circle cx="186.22" cy="132.13" r="0.98" fill="url(#spot2)"/>
<circle cx="186.22" cy="134.27" r="0.98" fill="url(#spot2)"/>
<circle cx="188.18" cy="132.13" r="0.98" fill="url(#spot2)"/>
<circle cx="188.18" cy="134.27" r="0.98" fill="url(#spot2)"/>
<line x1="32.45" y1="14.4" x2="32.45" y2="139.35" class="ax"/>
<line x1="32.45" y1="139.35" x2="331.4" y2="139.35" class="ax"/>
<line x1="32.45" y1="139.35" x2="32.45" y2="136.35" class="tk"/>
<text x="32.45" y="151.55" class="tl" text-anchor="middle">0</text>
<line x1="62.34" y1="139.35" x2="62.34" y2="136.35" class="tk"/>
<text x="62.34" y="151.55" class="tl" text-anchor="middle">0.2</text>
<line x1="92.24" y1="139.35" x2="92.24" y2="136.35" class="tk"/>
<text x="92.24" y="151.55" class="tl" text-anchor="middle">0.4</text>
<line x1="122.14" y1="139.35" x2="122.14" y2="136.35" class="tk"/>
<text x="122.14" y="151.55" class="tl" text-anchor="middle">0.6</text>
<line x1="152.03" y1="139.35" x2="152.03" y2="136.35" class="tk"/>
<text x="152.03" y="151.55" class="tl" text-anchor="middle">0.8</text>
<line x1="181.93" y1="139.35" x2="181.93" y2="136.35" class="tk"/>
<text x="181.93" y="151.55" class="tl" text-anchor="middle">1</text>
<line x1="211.82" y1="139.35" x2="211.82" y2="136.35" class="tk"/>
<text x="211.82" y="151.55" class="tl" text-anchor="middle">1.2</text>
<line x1="241.72" y1="139.35" x2="241.72" y2="136.35" class="tk"/>
<text x="241.72" y="151.55" class="tl" text-anchor="middle">1.4</text>
<line x1="271.61" y1="139.35" x2="271.61" y2="136.35" class="tk"/>
<text x="271.61" y="151.55" class="tl" text-anchor="middle">1.6</text>
<line x1="301.5" y1="139.35" x2="301.5" y2="136.35" class="tk"/>
<text x="301.5" y="151.55" class="tl" text-anchor="middle">1.8</text>
<line x1="331.4" y1="139.35" x2="331.4" y2="136.35" class="tk"/>
<text x="331.4" y="151.55" class="tl" text-anchor="middle">2</text>
<line x1="32.45" y1="139.35" x2="35.45" y2="139.35" class="tk"/>
<text x="29.55" y="143.65" class="tl" text-anchor="end">0</text>
<line x1="32.45" y1="118.53" x2="35.45" y2="118.53" class="tk"/>
<text x="29.55" y="122.83" class="tl" text-anchor="end">100</text>
<line x1="32.45" y1="97.7" x2="35.45" y2="97.7" class="tk"/>
<text x="29.55" y="102" class="tl" text-anchor="end">200</text>
<line x1="32.45" y1="76.88" x2="35.45" y2="76.88" class="tk"/>
<text x="29.55" y="81.17" class="tl" text-anchor="end">300</text>
<line x1="32.45" y1="56.05" x2="35.45" y2="56.05" class="tk"/>
<text x="29.55" y="60.35" class="tl" text-anchor="end">400</text>
<line x1="32.45" y1="35.22" x2="35.45" y2="35.22" class="tk"/>
<text x="29.55" y="39.52" class="tl" text-anchor="end">500</text>
<line x1="32.45" y1="14.4" x2="35.45" y2="14.4" class="tk"/>
<text x="29.55" y="18.7" class="tl" text-anchor="end">600</text>
<line x1="32.45" y1="139.45" x2="331.4" y2="139.45" stroke="#1c74b8" stroke-width="1.2"/>
<text x="183.2" y="52.8" class="an">high quality factors,</text>
<text x="183.2" y="64.9" class="an">not damping by air</text>
<text x="103.2" y="8.3" class="ti">Modes Displacement (air)</text>
<text x="181.7" y="164" class="xl" text-anchor="middle">f (MHz)</text>
<text transform="translate(8.9,77) rotate(-90)" class="xl" text-anchor="middle">Displacement (nm)</text>
<text x="-0.8" y="7.8" class="pl">a</text>
<line x1="390.93" y1="15.6" x2="390.93" y2="140.4" class="mn"/>
<line x1="398.4" y1="15.6" x2="398.4" y2="140.4" class="mn"/>
<line x1="405.88" y1="15.6" x2="405.88" y2="140.4" class="mn"/>
<line x1="420.83" y1="15.6" x2="420.83" y2="140.4" class="mn"/>
<line x1="428.31" y1="15.6" x2="428.31" y2="140.4" class="mn"/>
<line x1="435.78" y1="15.6" x2="435.78" y2="140.4" class="mn"/>
<line x1="450.74" y1="15.6" x2="450.74" y2="140.4" class="mn"/>
<line x1="458.21" y1="15.6" x2="458.21" y2="140.4" class="mn"/>
<line x1="465.69" y1="15.6" x2="465.69" y2="140.4" class="mn"/>
<line x1="480.64" y1="15.6" x2="480.64" y2="140.4" class="mn"/>
<line x1="488.12" y1="15.6" x2="488.12" y2="140.4" class="mn"/>
<line x1="495.59" y1="15.6" x2="495.59" y2="140.4" class="mn"/>
<line x1="510.55" y1="15.6" x2="510.55" y2="140.4" class="mn"/>
<line x1="518.02" y1="15.6" x2="518.02" y2="140.4" class="mn"/>
<line x1="525.5" y1="15.6" x2="525.5" y2="140.4" class="mn"/>
<line x1="540.45" y1="15.6" x2="540.45" y2="140.4" class="mn"/>
<line x1="547.93" y1="15.6" x2="547.93" y2="140.4" class="mn"/>
<line x1="555.4" y1="15.6" x2="555.4" y2="140.4" class="mn"/>
<line x1="570.36" y1="15.6" x2="570.36" y2="140.4" class="mn"/>
<line x1="577.83" y1="15.6" x2="577.83" y2="140.4" class="mn"/>
<line x1="585.31" y1="15.6" x2="585.31" y2="140.4" class="mn"/>
<line x1="600.26" y1="15.6" x2="600.26" y2="140.4" class="mn"/>
<line x1="607.74" y1="15.6" x2="607.74" y2="140.4" class="mn"/>
<line x1="615.21" y1="15.6" x2="615.21" y2="140.4" class="mn"/>
<line x1="630.17" y1="15.6" x2="630.17" y2="140.4" class="mn"/>
<line x1="637.64" y1="15.6" x2="637.64" y2="140.4" class="mn"/>
<line x1="645.12" y1="15.6" x2="645.12" y2="140.4" class="mn"/>
<line x1="660.07" y1="15.6" x2="660.07" y2="140.4" class="mn"/>
<line x1="667.55" y1="15.6" x2="667.55" y2="140.4" class="mn"/>
<line x1="675.02" y1="15.6" x2="675.02" y2="140.4" class="mn"/>
<line x1="383.45" y1="136.24" x2="682.5" y2="136.24" class="mn"/>
<line x1="383.45" y1="132.08" x2="682.5" y2="132.08" class="mn"/>
<line x1="383.45" y1="127.92" x2="682.5" y2="127.92" class="mn"/>
<line x1="383.45" y1="123.76" x2="682.5" y2="123.76" class="mn"/>
<line x1="383.45" y1="119.6" x2="682.5" y2="119.6" class="mn"/>
<line x1="383.45" y1="111.28" x2="682.5" y2="111.28" class="mn"/>
<line x1="383.45" y1="107.12" x2="682.5" y2="107.12" class="mn"/>
<line x1="383.45" y1="102.96" x2="682.5" y2="102.96" class="mn"/>
<line x1="383.45" y1="98.8" x2="682.5" y2="98.8" class="mn"/>
<line x1="383.45" y1="94.64" x2="682.5" y2="94.64" class="mn"/>
<line x1="383.45" y1="86.32" x2="682.5" y2="86.32" class="mn"/>
<line x1="383.45" y1="82.16" x2="682.5" y2="82.16" class="mn"/>
<line x1="383.45" y1="78" x2="682.5" y2="78" class="mn"/>
<line x1="383.45" y1="73.84" x2="682.5" y2="73.84" class="mn"/>
<line x1="383.45" y1="69.68" x2="682.5" y2="69.68" class="mn"/>
<line x1="383.45" y1="61.36" x2="682.5" y2="61.36" class="mn"/>
<line x1="383.45" y1="57.2" x2="682.5" y2="57.2" class="mn"/>
<line x1="383.45" y1="53.04" x2="682.5" y2="53.04" class="mn"/>
<line x1="383.45" y1="48.88" x2="682.5" y2="48.88" class="mn"/>
<line x1="383.45" y1="44.72" x2="682.5" y2="44.72" class="mn"/>
<line x1="383.45" y1="36.4" x2="682.5" y2="36.4" class="mn"/>
<line x1="383.45" y1="32.24" x2="682.5" y2="32.24" class="mn"/>
<line x1="383.45" y1="28.08" x2="682.5" y2="28.08" class="mn"/>
<line x1="383.45" y1="23.92" x2="682.5" y2="23.92" class="mn"/>
<line x1="383.45" y1="19.76" x2="682.5" y2="19.76" class="mn"/>
<line x1="413.36" y1="15.6" x2="413.36" y2="140.4" class="mj"/>
<line x1="443.26" y1="15.6" x2="443.26" y2="140.4" class="mj"/>
<line x1="473.17" y1="15.6" x2="473.17" y2="140.4" class="mj"/>
<line x1="503.07" y1="15.6" x2="503.07" y2="140.4" class="mj"/>
<line x1="532.98" y1="15.6" x2="532.98" y2="140.4" class="mj"/>
<line x1="562.88" y1="15.6" x2="562.88" y2="140.4" class="mj"/>
<line x1="592.79" y1="15.6" x2="592.79" y2="140.4" class="mj"/>
<line x1="622.69" y1="15.6" x2="622.69" y2="140.4" class="mj"/>
<line x1="652.6" y1="15.6" x2="652.6" y2="140.4" class="mj"/>
<line x1="682.5" y1="15.6" x2="682.5" y2="140.4" class="mj"/>
<line x1="383.45" y1="115.44" x2="682.5" y2="115.44" class="mj"/>
<line x1="383.45" y1="90.48" x2="682.5" y2="90.48" class="mj"/>
<line x1="383.45" y1="65.52" x2="682.5" y2="65.52" class="mj"/>
<line x1="383.45" y1="40.56" x2="682.5" y2="40.56" class="mj"/>
<line x1="383.45" y1="15.6" x2="682.5" y2="15.6" class="mj"/>
<path d="M405.19,140.36 L423.14,140.31 L432.65,140.24 L438.56,140.16 L442.59,140.06 L445.52,139.95 L447.75,139.82 L449.51,139.67 L450.94,139.51 L452.12,139.34 L453.12,139.15 L453.98,138.95 L454.72,138.74 L455.37,138.52 L455.95,138.30 L456.47,138.06 L456.94,137.82 L457.37,137.57 L457.76,137.32 L458.12,137.06 L458.45,136.80 L458.76,136.54 L459.04,136.28 L459.32,136.02 L459.57,135.77 L459.81,135.51 L460.04,135.27 L460.26,135.03 L460.47,134.79 L460.67,134.57 L460.87,134.35 L461.05,134.14 L461.24,133.95 L461.41,133.77 L461.58,133.60 L461.75,133.44 L461.91,133.30 L462.07,133.17 L462.23,133.06 L462.39,132.96 L462.54,132.89 L462.69,132.82 L462.85,132.78 L463.00,132.75 L463.15,132.75 L463.30,132.75 L463.45,132.78 L463.60,132.82 L463.75,132.89 L463.91,132.96 L464.06,133.06 L464.22,133.17 L464.38,133.30 L464.54,133.44 L464.71,133.60 L464.88,133.77 L465.06,133.95 L465.24,134.14 L465.43,134.35 L465.62,134.57 L465.82,134.79 L466.03,135.03 L466.25,135.27 L466.48,135.51 L466.72,135.77 L466.98,136.02 L467.25,136.28 L467.54,136.54 L467.85,136.80 L468.18,137.06 L468.54,137.32 L468.93,137.57 L469.35,137.82 L469.82,138.06 L470.34,138.30 L470.92,138.52 L471.57,138.74 L472.32,138.95 L473.17,139.15 L474.17,139.34 L475.35,139.51 L476.78,139.67 L478.54,139.82 L480.77,139.95 L483.71,140.06 L487.74,140.16 L493.64,140.24 L503.16,140.31 L521.11,140.36 L567.81,140.39" fill="none" stroke="#000000" stroke-width="1.1"/>
<path d="M407.54,140.22 L425.55,140.03 L435.30,139.79 L441.42,139.47 L445.62,139.10 L448.70,138.67 L451.05,138.18 L452.92,137.63 L454.43,137.03 L455.68,136.38 L456.75,135.69 L457.66,134.95 L458.45,134.17 L459.15,133.35 L459.76,132.50 L460.32,131.62 L460.82,130.72 L461.28,129.79 L461.69,128.85 L462.08,127.89 L462.43,126.93 L462.76,125.96 L463.07,125.00 L463.36,124.04 L463.64,123.09 L463.90,122.15 L464.15,121.23 L464.38,120.33 L464.61,119.46 L464.82,118.62 L465.03,117.82 L465.23,117.05 L465.43,116.33 L465.62,115.65 L465.80,115.02 L465.98,114.44 L466.16,113.91 L466.33,113.44 L466.50,113.03 L466.67,112.67 L466.83,112.38 L467.00,112.16 L467.16,111.99 L467.32,111.90 L467.48,111.86 L467.64,111.90 L467.81,111.99 L467.97,112.16 L468.13,112.38 L468.30,112.67 L468.47,113.03 L468.64,113.44 L468.81,113.91 L468.99,114.44 L469.17,115.02 L469.35,115.65 L469.54,116.33 L469.73,117.05 L469.94,117.82 L470.14,118.62 L470.36,119.46 L470.59,120.33 L470.82,121.23 L471.07,122.15 L471.33,123.09 L471.60,124.04 L471.89,125.00 L472.20,125.96 L472.53,126.93 L472.89,127.89 L473.27,128.85 L473.69,129.79 L474.15,130.72 L474.65,131.62 L475.20,132.50 L475.82,133.35 L476.52,134.17 L477.31,134.95 L478.22,135.69 L479.28,136.38 L480.54,137.03 L482.05,137.63 L483.91,138.18 L486.26,138.67 L489.34,139.10 L493.55,139.47 L499.67,139.79 L509.42,140.03 L527.43,140.22 L572.15,140.34" fill="none" stroke="#D95319" stroke-width="1.1"/>
<path d="M414.45,140.23 L432.47,140.07 L442.44,139.85 L448.78,139.57 L453.17,139.25 L456.40,138.87 L458.88,138.45 L460.85,137.97 L462.46,137.46 L463.79,136.90 L464.92,136.30 L465.89,135.66 L466.74,134.99 L467.49,134.28 L468.15,133.55 L468.74,132.80 L469.28,132.02 L469.77,131.22 L470.22,130.41 L470.63,129.59 L471.01,128.77 L471.37,127.94 L471.70,127.11 L472.01,126.28 L472.31,125.47 L472.59,124.67 L472.85,123.88 L473.11,123.11 L473.35,122.36 L473.58,121.65 L473.81,120.96 L474.02,120.30 L474.24,119.68 L474.44,119.10 L474.64,118.56 L474.83,118.06 L475.02,117.61 L475.21,117.21 L475.39,116.85 L475.57,116.55 L475.75,116.30 L475.93,116.11 L476.10,115.97 L476.28,115.88 L476.45,115.86 L476.63,115.88 L476.80,115.97 L476.98,116.11 L477.16,116.30 L477.34,116.55 L477.52,116.85 L477.70,117.21 L477.89,117.61 L478.08,118.06 L478.27,118.56 L478.47,119.10 L478.67,119.68 L478.88,120.30 L479.10,120.96 L479.33,121.65 L479.56,122.36 L479.80,123.11 L480.05,123.88 L480.32,124.67 L480.60,125.47 L480.90,126.28 L481.21,127.11 L481.54,127.94 L481.90,128.77 L482.28,129.59 L482.69,130.41 L483.14,131.22 L483.63,132.02 L484.17,132.80 L484.76,133.55 L485.42,134.28 L486.17,134.99 L487.01,135.66 L487.99,136.30 L489.12,136.90 L490.45,137.46 L492.06,137.97 L494.03,138.45 L496.51,138.87 L499.74,139.25 L504.13,139.57 L510.47,139.85 L520.44,140.07 L538.46,140.23 L581.12,140.34" fill="none" stroke="#7E2F8E" stroke-width="1.1"/>
<path d="M418.71,139.54 L436.71,138.75 L446.83,137.69 L453.33,136.39 L457.86,134.84 L461.21,133.05 L463.79,131.03 L465.85,128.79 L467.52,126.35 L468.92,123.70 L470.11,120.86 L471.13,117.85 L472.02,114.68 L472.80,111.37 L473.50,107.92 L474.13,104.36 L474.69,100.70 L475.21,96.95 L475.68,93.14 L476.12,89.29 L476.52,85.40 L476.90,81.50 L477.25,77.60 L477.58,73.73 L477.89,69.89 L478.19,66.12 L478.47,62.42 L478.74,58.81 L479.00,55.31 L479.24,51.93 L479.48,48.70 L479.71,45.61 L479.93,42.70 L480.15,39.97 L480.36,37.43 L480.57,35.09 L480.77,32.98 L480.96,31.08 L481.16,29.43 L481.35,28.01 L481.54,26.85 L481.73,25.93 L481.91,25.28 L482.10,24.88 L482.29,24.75 L482.47,24.88 L482.66,25.28 L482.84,25.93 L483.03,26.85 L483.22,28.01 L483.41,29.43 L483.61,31.08 L483.81,32.98 L484.01,35.09 L484.21,37.43 L484.42,39.97 L484.64,42.70 L484.86,45.61 L485.09,48.70 L485.33,51.93 L485.58,55.31 L485.83,58.81 L486.10,62.42 L486.38,66.12 L486.68,69.89 L486.99,73.73 L487.32,77.60 L487.68,81.50 L488.05,85.40 L488.46,89.29 L488.89,93.14 L489.36,96.95 L489.88,100.70 L490.45,104.36 L491.07,107.92 L491.77,111.37 L492.55,114.68 L493.44,117.85 L494.46,120.86 L495.65,123.70 L497.05,126.35 L498.73,128.79 L500.78,131.03 L503.36,133.05 L506.71,134.84 L511.25,136.39 L517.74,137.69 L527.86,138.75 L545.86,139.54 L586.95,140.08" fill="none" stroke="#77AC30" stroke-width="1.1"/>
<path d="M422.54,140.04 L440.57,139.68 L450.46,139.20 L456.71,138.60 L461.04,137.89 L464.21,137.07 L466.65,136.13 L468.57,135.09 L470.14,133.95 L471.45,132.72 L472.55,131.40 L473.50,130.00 L474.33,128.52 L475.05,126.97 L475.70,125.36 L476.28,123.69 L476.80,121.98 L477.28,120.22 L477.71,118.44 L478.12,116.63 L478.49,114.81 L478.83,112.98 L479.16,111.15 L479.46,109.33 L479.75,107.54 L480.02,105.76 L480.28,104.03 L480.53,102.33 L480.76,100.69 L480.99,99.10 L481.21,97.58 L481.42,96.13 L481.62,94.76 L481.82,93.47 L482.02,92.28 L482.20,91.18 L482.39,90.19 L482.57,89.30 L482.75,88.52 L482.92,87.85 L483.10,87.30 L483.27,86.88 L483.44,86.57 L483.61,86.38 L483.78,86.32 L483.95,86.38 L484.12,86.57 L484.29,86.88 L484.46,87.30 L484.64,87.85 L484.81,88.52 L484.99,89.30 L485.17,90.19 L485.36,91.18 L485.55,92.28 L485.74,93.47 L485.94,94.76 L486.14,96.13 L486.35,97.58 L486.57,99.10 L486.80,100.69 L487.03,102.33 L487.28,104.03 L487.54,105.76 L487.81,107.54 L488.10,109.33 L488.40,111.15 L488.73,112.98 L489.07,114.81 L489.45,116.63 L489.85,118.44 L490.28,120.22 L490.76,121.98 L491.28,123.69 L491.86,125.36 L492.51,126.97 L493.24,128.52 L494.06,130.00 L495.01,131.40 L496.11,132.72 L497.42,133.95 L498.99,135.09 L500.92,136.13 L503.35,137.07 L506.52,137.89 L510.85,138.60 L517.10,139.20 L526.99,139.68 L545.02,140.04 L588.45,140.28" fill="none" stroke="#4DBEEE" stroke-width="1.1"/>
<path d="M423.76,140.11 L441.79,139.82 L451.72,139.43 L458.02,138.95 L462.39,138.38 L465.59,137.72 L468.05,136.97 L470.00,136.14 L471.59,135.23 L472.91,134.24 L474.03,133.18 L474.99,132.06 L475.83,130.87 L476.57,129.64 L477.22,128.35 L477.81,127.01 L478.34,125.64 L478.82,124.24 L479.27,122.81 L479.67,121.37 L480.05,119.91 L480.40,118.45 L480.73,116.99 L481.04,115.53 L481.33,114.09 L481.61,112.68 L481.87,111.29 L482.12,109.93 L482.36,108.62 L482.59,107.35 L482.81,106.13 L483.03,104.98 L483.23,103.88 L483.44,102.85 L483.63,101.90 L483.82,101.02 L484.01,100.23 L484.20,99.52 L484.38,98.89 L484.56,98.36 L484.73,97.92 L484.91,97.58 L485.08,97.33 L485.25,97.19 L485.43,97.14 L485.60,97.19 L485.77,97.33 L485.95,97.58 L486.12,97.92 L486.30,98.36 L486.48,98.89 L486.66,99.52 L486.84,100.23 L487.03,101.02 L487.22,101.90 L487.42,102.85 L487.62,103.88 L487.82,104.98 L488.04,106.13 L488.26,107.35 L488.49,108.62 L488.73,109.93 L488.98,111.29 L489.24,112.68 L489.52,114.09 L489.81,115.53 L490.12,116.99 L490.45,118.45 L490.80,119.91 L491.18,121.37 L491.59,122.81 L492.03,124.24 L492.51,125.64 L493.04,127.01 L493.63,128.35 L494.29,129.64 L495.02,130.87 L495.86,132.06 L496.82,133.18 L497.94,134.24 L499.26,135.23 L500.85,136.14 L502.80,136.97 L505.26,137.72 L508.47,138.38 L512.83,138.95 L519.13,139.43 L529.06,139.82 L547.09,140.11 L590.09,140.30" fill="none" stroke="#A2142F" stroke-width="1.1"/>
<path d="M385.84,140.19 L427.59,139.81 L445.60,139.26 L455.66,138.52 L462.09,137.61 L466.57,136.52 L469.87,135.26 L472.41,133.84 L474.42,132.27 L476.07,130.55 L477.44,128.68 L478.61,126.69 L479.61,124.57 L480.48,122.33 L481.24,120.00 L481.93,117.57 L482.54,115.05 L483.09,112.47 L483.60,109.83 L484.06,107.14 L484.49,104.42 L484.88,101.68 L485.25,98.93 L485.59,96.18 L485.92,93.44 L486.22,90.74 L486.51,88.07 L486.79,85.46 L487.05,82.91 L487.30,80.44 L487.54,78.06 L487.77,75.77 L488.00,73.60 L488.21,71.54 L488.42,69.61 L488.63,67.81 L488.83,66.17 L489.03,64.67 L489.22,63.34 L489.41,62.17 L489.60,61.17 L489.78,60.34 L489.97,59.70 L490.15,59.24 L490.33,58.96 L490.51,58.86 L490.69,58.96 L490.87,59.24 L491.05,59.70 L491.24,60.34 L491.42,61.17 L491.61,62.17 L491.80,63.34 L491.99,64.67 L492.19,66.17 L492.39,67.81 L492.60,69.61 L492.81,71.54 L493.02,73.60 L493.25,75.77 L493.48,78.06 L493.72,80.44 L493.97,82.91 L494.23,85.46 L494.51,88.07 L494.80,90.74 L495.10,93.44 L495.43,96.18 L495.77,98.93 L496.14,101.68 L496.53,104.42 L496.96,107.14 L497.42,109.83 L497.93,112.47 L498.48,115.05 L499.09,117.57 L499.78,120.00 L500.54,122.33 L501.41,124.57 L502.41,126.69 L503.58,128.68 L504.95,130.55 L506.59,132.27 L508.61,133.84 L511.15,135.26 L514.45,136.52 L518.93,137.61 L525.36,138.52 L535.42,139.26 L553.43,139.81 L595.18,140.19" fill="none" stroke="#0072BD" stroke-width="1.1"/>
<path d="M386.44,140.29 L428.04,140.09 L446.05,139.80 L456.13,139.42 L462.57,138.94 L467.06,138.38 L470.37,137.72 L472.92,136.98 L474.95,136.16 L476.60,135.27 L477.98,134.30 L479.14,133.26 L480.15,132.15 L481.02,130.99 L481.80,129.77 L482.48,128.51 L483.10,127.20 L483.65,125.86 L484.16,124.48 L484.62,123.09 L485.05,121.67 L485.45,120.24 L485.82,118.81 L486.16,117.38 L486.49,115.96 L486.80,114.55 L487.09,113.16 L487.36,111.80 L487.63,110.48 L487.88,109.19 L488.12,107.95 L488.36,106.76 L488.58,105.63 L488.80,104.56 L489.01,103.56 L489.22,102.62 L489.42,101.77 L489.62,100.99 L489.81,100.29 L490.00,99.69 L490.19,99.17 L490.38,98.74 L490.56,98.40 L490.74,98.16 L490.93,98.02 L491.11,97.97 L491.29,98.02 L491.47,98.16 L491.66,98.40 L491.84,98.74 L492.03,99.17 L492.21,99.69 L492.40,100.29 L492.60,100.99 L492.80,101.77 L493.00,102.62 L493.20,103.56 L493.42,104.56 L493.64,105.63 L493.86,106.76 L494.09,107.95 L494.34,109.19 L494.59,110.48 L494.85,111.80 L495.13,113.16 L495.42,114.55 L495.73,115.96 L496.05,117.38 L496.40,118.81 L496.77,120.24 L497.16,121.67 L497.59,123.09 L498.06,124.48 L498.56,125.86 L499.12,127.20 L499.73,128.51 L500.42,129.77 L501.19,130.99 L502.07,132.15 L503.07,133.26 L504.24,134.30 L505.62,135.27 L507.27,136.16 L509.30,136.98 L511.85,137.72 L515.16,138.38 L519.64,138.94 L526.09,139.42 L536.16,139.80 L554.17,140.09 L595.78,140.29" fill="none" stroke="#D95319" stroke-width="1.1"/>
<path d="M391.08,140.26 L431.60,140.02 L449.58,139.67 L459.75,139.20 L466.30,138.63 L470.89,137.96 L474.28,137.18 L476.90,136.30 L478.99,135.32 L480.69,134.25 L482.11,133.10 L483.32,131.86 L484.36,130.55 L485.26,129.17 L486.06,127.73 L486.77,126.23 L487.41,124.68 L487.99,123.08 L488.52,121.45 L489.00,119.80 L489.44,118.12 L489.86,116.43 L490.24,114.73 L490.60,113.04 L490.94,111.35 L491.26,109.69 L491.56,108.04 L491.85,106.44 L492.12,104.87 L492.38,103.35 L492.63,101.88 L492.88,100.47 L493.11,99.13 L493.34,97.86 L493.56,96.68 L493.78,95.57 L493.99,94.56 L494.19,93.64 L494.39,92.82 L494.59,92.10 L494.79,91.48 L494.98,90.97 L495.17,90.58 L495.36,90.29 L495.55,90.12 L495.74,90.06 L495.93,90.12 L496.12,90.29 L496.31,90.58 L496.51,90.97 L496.70,91.48 L496.89,92.10 L497.09,92.82 L497.30,93.64 L497.50,94.56 L497.71,95.57 L497.93,96.68 L498.15,97.86 L498.37,99.13 L498.61,100.47 L498.85,101.88 L499.10,103.35 L499.37,104.87 L499.64,106.44 L499.93,108.04 L500.23,109.69 L500.55,111.35 L500.89,113.04 L501.25,114.73 L501.63,116.43 L502.04,118.12 L502.49,119.80 L502.97,121.45 L503.50,123.08 L504.07,124.68 L504.71,126.23 L505.42,127.73 L506.22,129.17 L507.13,130.55 L508.17,131.86 L509.37,133.10 L510.80,134.25 L512.50,135.32 L514.59,136.30 L517.20,137.18 L520.60,137.96 L525.18,138.63 L531.74,139.20 L541.91,139.67 L559.89,140.02 L600.41,140.26" fill="none" stroke="#EDB120" stroke-width="1.1"/>
<path d="M398.10,140.33 L437.09,140.21 L454.99,140.04 L465.29,139.83 L472.00,139.56 L476.72,139.25 L480.23,138.89 L482.95,138.48 L485.13,138.03 L486.91,137.53 L488.39,137.00 L489.66,136.43 L490.75,135.83 L491.70,135.19 L492.54,134.53 L493.29,133.84 L493.96,133.13 L494.57,132.40 L495.12,131.65 L495.63,130.89 L496.10,130.12 L496.54,129.34 L496.94,128.57 L497.32,127.79 L497.68,127.02 L498.02,126.25 L498.34,125.50 L498.64,124.76 L498.93,124.05 L499.21,123.35 L499.48,122.68 L499.73,122.03 L499.98,121.42 L500.22,120.84 L500.46,120.30 L500.68,119.79 L500.91,119.33 L501.13,118.91 L501.34,118.53 L501.55,118.20 L501.76,117.92 L501.96,117.69 L502.17,117.51 L502.37,117.37 L502.57,117.30 L502.77,117.27 L502.97,117.30 L503.17,117.37 L503.38,117.51 L503.58,117.69 L503.78,117.92 L503.99,118.20 L504.20,118.53 L504.42,118.91 L504.63,119.33 L504.86,119.79 L505.09,120.30 L505.32,120.84 L505.56,121.42 L505.81,122.03 L506.07,122.68 L506.33,123.35 L506.61,124.05 L506.90,124.76 L507.21,125.50 L507.53,126.25 L507.86,127.02 L508.22,127.79 L508.60,128.57 L509.01,129.34 L509.44,130.12 L509.91,130.89 L510.42,131.65 L510.97,132.40 L511.58,133.13 L512.25,133.84 L513.00,134.53 L513.84,135.19 L514.79,135.83 L515.88,136.43 L517.15,137.00 L518.64,137.53 L520.41,138.03 L522.59,138.48 L525.31,138.89 L528.82,139.25 L533.54,139.56 L540.25,139.83 L550.55,140.04 L568.46,140.21 L607.44,140.33" fill="none" stroke="#7E2F8E" stroke-width="1.1"/>
<path d="M403.19,140.30 L441.12,140.15 L458.96,139.95 L469.34,139.67 L476.15,139.34 L480.96,138.95 L484.56,138.50 L487.35,138.00 L489.58,137.44 L491.41,136.83 L492.94,136.17 L494.25,135.47 L495.38,134.72 L496.36,133.94 L497.23,133.12 L498.00,132.27 L498.70,131.39 L499.33,130.49 L499.90,129.56 L500.43,128.63 L500.92,127.68 L501.37,126.72 L501.79,125.76 L502.19,124.81 L502.56,123.86 L502.91,122.92 L503.24,121.99 L503.56,121.08 L503.86,120.20 L504.15,119.34 L504.43,118.51 L504.69,117.72 L504.95,116.97 L505.20,116.25 L505.45,115.58 L505.68,114.96 L505.92,114.39 L506.14,113.87 L506.36,113.41 L506.58,113.01 L506.80,112.66 L507.01,112.37 L507.23,112.15 L507.44,111.99 L507.65,111.89 L507.85,111.86 L508.06,111.89 L508.27,111.99 L508.48,112.15 L508.70,112.37 L508.91,112.66 L509.13,113.01 L509.34,113.41 L509.57,113.87 L509.79,114.39 L510.03,114.96 L510.26,115.58 L510.51,116.25 L510.76,116.97 L511.02,117.72 L511.28,118.51 L511.56,119.34 L511.85,120.20 L512.15,121.08 L512.47,121.99 L512.80,122.92 L513.15,123.86 L513.52,124.81 L513.92,125.76 L514.34,126.72 L514.79,127.68 L515.28,128.63 L515.80,129.56 L516.38,130.49 L517.01,131.39 L517.71,132.27 L518.48,133.12 L519.35,133.94 L520.33,134.72 L521.46,135.47 L522.76,136.17 L524.30,136.83 L526.13,137.44 L528.36,138.00 L531.15,138.50 L534.75,138.95 L539.56,139.34 L546.37,139.67 L556.75,139.95 L574.58,140.15 L612.52,140.30" fill="none" stroke="#77AC30" stroke-width="1.1"/>
<path d="M410.66,140.35 L447.16,140.28 L464.87,140.18 L475.35,140.05 L482.28,139.90 L487.23,139.72 L490.93,139.51 L493.82,139.28 L496.14,139.02 L498.05,138.74 L499.65,138.44 L501.01,138.12 L502.19,137.77 L503.22,137.41 L504.13,137.04 L504.94,136.65 L505.67,136.25 L506.34,135.83 L506.94,135.41 L507.50,134.98 L508.01,134.55 L508.48,134.11 L508.93,133.68 L509.34,133.24 L509.74,132.81 L510.11,132.38 L510.46,131.95 L510.79,131.54 L511.11,131.14 L511.41,130.75 L511.71,130.37 L511.99,130.01 L512.26,129.66 L512.53,129.34 L512.78,129.03 L513.03,128.75 L513.28,128.49 L513.52,128.25 L513.76,128.04 L513.99,127.86 L514.22,127.70 L514.44,127.57 L514.67,127.47 L514.89,127.40 L515.11,127.35 L515.33,127.34 L515.55,127.35 L515.77,127.40 L516.00,127.47 L516.22,127.57 L516.45,127.70 L516.67,127.86 L516.91,128.04 L517.14,128.25 L517.38,128.49 L517.63,128.75 L517.88,129.03 L518.14,129.34 L518.40,129.66 L518.67,130.01 L518.96,130.37 L519.25,130.75 L519.55,131.14 L519.87,131.54 L520.21,131.95 L520.56,132.38 L520.93,132.81 L521.32,133.24 L521.73,133.68 L522.18,134.11 L522.65,134.55 L523.17,134.98 L523.72,135.41 L524.33,135.83 L524.99,136.25 L525.72,136.65 L526.53,137.04 L527.44,137.41 L528.47,137.77 L529.65,138.12 L531.01,138.44 L532.61,138.74 L534.52,139.02 L536.84,139.28 L539.73,139.51 L543.44,139.72 L548.38,139.90 L555.32,140.05 L565.79,140.18 L583.50,140.28 L620.00,140.35" fill="none" stroke="#4DBEEE" stroke-width="1.1"/>
<path d="M420.23,140.32 L455.03,140.22 L472.55,140.08 L483.12,139.90 L490.21,139.68 L495.30,139.43 L499.14,139.13 L502.14,138.81 L504.57,138.45 L506.56,138.06 L508.24,137.64 L509.68,137.19 L510.92,136.72 L512.01,136.22 L512.97,135.70 L513.83,135.17 L514.61,134.61 L515.31,134.04 L515.95,133.46 L516.54,132.87 L517.09,132.27 L517.59,131.67 L518.07,131.07 L518.51,130.46 L518.92,129.87 L519.32,129.28 L519.69,128.69 L520.05,128.12 L520.39,127.57 L520.71,127.03 L521.03,126.51 L521.33,126.02 L521.62,125.54 L521.90,125.09 L522.18,124.68 L522.45,124.29 L522.71,123.93 L522.96,123.60 L523.22,123.32 L523.46,123.06 L523.71,122.84 L523.95,122.67 L524.19,122.53 L524.43,122.43 L524.66,122.37 L524.90,122.35 L525.14,122.37 L525.37,122.43 L525.61,122.53 L525.85,122.67 L526.09,122.84 L526.34,123.06 L526.59,123.32 L526.84,123.60 L527.09,123.93 L527.36,124.29 L527.62,124.68 L527.90,125.09 L528.18,125.54 L528.47,126.02 L528.77,126.51 L529.09,127.03 L529.41,127.57 L529.75,128.12 L530.11,128.69 L530.48,129.28 L530.88,129.87 L531.29,130.46 L531.74,131.07 L532.21,131.67 L532.71,132.27 L533.26,132.87 L533.85,133.46 L534.49,134.04 L535.19,134.61 L535.97,135.17 L536.83,135.70 L537.79,136.22 L538.88,136.72 L540.12,137.19 L541.56,137.64 L543.24,138.06 L545.23,138.45 L547.66,138.81 L550.66,139.13 L554.51,139.43 L559.59,139.68 L566.68,139.90 L577.25,140.08 L594.77,140.22 L629.57,140.32" fill="none" stroke="#0072BD" stroke-width="1.1"/>
<path d="M421.33,140.37 L439.35,140.33 L449.20,140.29 L455.41,140.24 L459.69,140.17 L462.83,140.09 L465.24,140.01 L467.15,139.91 L468.70,139.81 L469.98,139.69 L471.07,139.57 L472.01,139.44 L472.82,139.31 L473.54,139.16 L474.18,139.01 L474.75,138.86 L475.26,138.70 L475.73,138.54 L476.16,138.38 L476.56,138.21 L476.93,138.04 L477.27,137.87 L477.59,137.70 L477.89,137.53 L478.17,137.37 L478.44,137.20 L478.69,137.04 L478.93,136.89 L479.17,136.74 L479.39,136.59 L479.60,136.45 L479.81,136.31 L480.01,136.19 L480.21,136.07 L480.40,135.96 L480.58,135.86 L480.77,135.77 L480.94,135.68 L481.12,135.61 L481.29,135.55 L481.46,135.50 L481.63,135.46 L481.80,135.43 L481.97,135.41 L482.14,135.41 L482.30,135.41 L482.47,135.43 L482.64,135.46 L482.81,135.50 L482.98,135.55 L483.15,135.61 L483.33,135.68 L483.51,135.77 L483.69,135.86 L483.87,135.96 L484.06,136.07 L484.26,136.19 L484.46,136.31 L484.67,136.45 L484.88,136.59 L485.11,136.74 L485.34,136.89 L485.58,137.04 L485.84,137.20 L486.10,137.37 L486.39,137.53 L486.69,137.70 L487.01,137.87 L487.35,138.04 L487.71,138.21 L488.11,138.38 L488.54,138.54 L489.01,138.70 L489.52,138.86 L490.09,139.01 L490.73,139.16 L491.45,139.31 L492.26,139.44 L493.20,139.57 L494.29,139.69 L495.58,139.81 L497.13,139.91 L499.03,140.01 L501.44,140.09 L504.58,140.17 L508.87,140.24 L515.08,140.29 L524.92,140.33 L542.95,140.37 L586.80,140.39" fill="none" stroke="#EDB120" stroke-width="1.1"/>
<path d="M386.44,140.39 L428.04,140.37 L446.05,140.34 L456.13,140.30 L462.57,140.26 L467.06,140.20 L470.37,140.14 L472.92,140.06 L474.95,139.98 L476.60,139.90 L477.98,139.80 L479.14,139.70 L480.15,139.59 L481.02,139.48 L481.80,139.36 L482.48,139.23 L483.10,139.11 L483.65,138.97 L484.16,138.84 L484.62,138.70 L485.05,138.56 L485.45,138.42 L485.82,138.28 L486.16,138.14 L486.49,138.00 L486.80,137.87 L487.09,137.73 L487.36,137.60 L487.63,137.47 L487.88,137.34 L488.12,137.22 L488.36,137.10 L488.58,136.99 L488.80,136.89 L489.01,136.79 L489.22,136.70 L489.42,136.61 L489.62,136.54 L489.81,136.47 L490.00,136.41 L490.19,136.36 L490.38,136.32 L490.56,136.28 L490.74,136.26 L490.93,136.24 L491.11,136.24 L491.29,136.24 L491.47,136.26 L491.66,136.28 L491.84,136.32 L492.03,136.36 L492.21,136.41 L492.40,136.47 L492.60,136.54 L492.80,136.61 L493.00,136.70 L493.20,136.79 L493.42,136.89 L493.64,136.99 L493.86,137.10 L494.09,137.22 L494.34,137.34 L494.59,137.47 L494.85,137.60 L495.13,137.73 L495.42,137.87 L495.73,138.00 L496.05,138.14 L496.40,138.28 L496.77,138.42 L497.16,138.56 L497.59,138.70 L498.06,138.84 L498.56,138.97 L499.12,139.11 L499.73,139.23 L500.42,139.36 L501.19,139.48 L502.07,139.59 L503.07,139.70 L504.24,139.80 L505.62,139.90 L507.27,139.98 L509.30,140.06 L511.85,140.14 L515.16,140.20 L519.64,140.26 L526.09,140.30 L536.16,140.34 L554.17,140.37 L595.78,140.39" fill="none" stroke="#7E2F8E" stroke-width="1.1"/>
<path d="M398.40,140.39 L437.32,140.37 L455.22,140.35 L465.53,140.32 L472.24,140.28 L476.97,140.23 L480.49,140.18 L483.21,140.12 L485.39,140.06 L487.17,139.99 L488.66,139.91 L489.93,139.83 L491.02,139.74 L491.97,139.65 L492.82,139.56 L493.57,139.46 L494.24,139.35 L494.85,139.25 L495.40,139.14 L495.91,139.03 L496.38,138.92 L496.82,138.81 L497.23,138.70 L497.61,138.59 L497.97,138.47 L498.30,138.36 L498.63,138.26 L498.93,138.15 L499.22,138.05 L499.50,137.95 L499.77,137.85 L500.02,137.76 L500.27,137.67 L500.52,137.59 L500.75,137.51 L500.98,137.43 L501.20,137.37 L501.42,137.31 L501.64,137.25 L501.85,137.21 L502.05,137.17 L502.26,137.13 L502.46,137.11 L502.67,137.09 L502.87,137.08 L503.07,137.07 L503.27,137.08 L503.47,137.09 L503.68,137.11 L503.88,137.13 L504.09,137.17 L504.29,137.21 L504.50,137.25 L504.72,137.31 L504.94,137.37 L505.16,137.43 L505.39,137.51 L505.62,137.59 L505.87,137.67 L506.12,137.76 L506.37,137.85 L506.64,137.95 L506.92,138.05 L507.21,138.15 L507.51,138.26 L507.84,138.36 L508.17,138.47 L508.53,138.59 L508.91,138.70 L509.32,138.81 L509.76,138.92 L510.23,139.03 L510.74,139.14 L511.29,139.25 L511.90,139.35 L512.57,139.46 L513.32,139.56 L514.17,139.65 L515.12,139.74 L516.21,139.83 L517.48,139.91 L518.97,139.99 L520.75,140.06 L522.93,140.12 L525.65,140.18 L529.17,140.23 L533.90,140.28 L540.61,140.32 L550.92,140.35 L568.82,140.37 L607.74,140.39" fill="none" stroke="#A2142F" stroke-width="1.1"/>
<rect x="459" y="19.5" width="16.4" height="20.6" fill="#fff"/>
<rect x="460.8" y="20.7" width="12.8" height="0.7" fill="#cfcfcf"/>
<rect x="459.6" y="23.7" width="14" height="15" fill="#282a6d"/>
<rect x="473.75" y="24.3" width="1.2" height="13.8" fill="url(#cbar)"/>
<circle cx="466.8" cy="31.4" r="4.3" fill="url(#spot)"/>
<rect x="487.6" y="40.5" width="10.6" height="12.7" fill="#fff"/>
<rect x="489.4" y="41.7" width="7" height="0.7" fill="#cfcfcf"/>
<rect x="488.2" y="43.3" width="8.2" height="8.5" fill="#282a6d"/>
<rect x="496.55" y="43.9" width="1.2" height="7.3" fill="url(#cbar)"/>
<circle cx="492.5" cy="47.75" r="2.41" fill="url(#spot)"/>
<rect x="470.6" y="75.1" width="10.4" height="12.4" fill="#fff"/>
<rect x="472.4" y="76.3" width="6.8" height="0.7" fill="#cfcfcf"/>
<rect x="471.2" y="77.9" width="8" height="8.2" fill="#282a6d"/>
<rect x="479.35" y="78.5" width="1.2" height="7" fill="url(#cbar)"/>
<circle cx="475.4" cy="82.2" r="2.35" fill="url(#spot)"/>
<rect x="496.9" y="74.9" width="10" height="12.2" fill="#fff"/>
<rect x="498.7" y="76.1" width="6.4" height="0.7" fill="#cfcfcf"/>
<rect x="497.5" y="77.7" width="7.6" height="8" fill="#282a6d"/>
<rect x="505.25" y="78.3" width="1.2" height="6.8" fill="url(#cbar)"/>
<circle cx="501.5" cy="81.9" r="2.24" fill="url(#spot)"/>
<rect x="449.9" y="93" width="10.4" height="12.5" fill="#fff"/>
<rect x="451.7" y="94.2" width="6.8" height="0.7" fill="#cfcfcf"/>
<rect x="450.5" y="95.8" width="8" height="8.3" fill="#282a6d"/>
<rect x="458.65" y="96.4" width="1.2" height="7.1" fill="url(#cbar)"/>
<ellipse cx="454.7" cy="100.15" rx="2.64" ry="2.64" fill="url(#halo)"/>
<ellipse cx="453.62" cy="100.15" rx="1.27" ry="1.98" fill="url(#spot)"/>
<ellipse cx="455.78" cy="100.15" rx="1.27" ry="1.98" fill="url(#spot)"/>
<rect x="503.4" y="96" width="10.6" height="12.8" fill="#fff"/>
<rect x="505.2" y="97.2" width="7" height="0.7" fill="#cfcfcf"/>
<rect x="504" y="98.8" width="8.2" height="8.6" fill="#282a6d"/>
<rect x="512.35" y="99.4" width="1.2" height="7.4" fill="url(#cbar)"/>
<circle cx="508.3" cy="103.3" r="2.41" fill="url(#spot)"/>
<rect x="517.7" y="92.4" width="10.6" height="12.7" fill="#fff"/>
<rect x="519.5" y="93.6" width="7" height="0.7" fill="#cfcfcf"/>
<rect x="518.3" y="95.2" width="8.2" height="8.5" fill="#282a6d"/>
<rect x="526.65" y="95.8" width="1.2" height="7.3" fill="url(#cbar)"/>
<circle cx="522.6" cy="99.65" r="2.7" fill="url(#halo)" opacity="0.7"/>
<circle cx="521.49" cy="98.54" r="1.3" fill="url(#spot2)"/>
<circle cx="523.71" cy="100.76" r="1.3" fill="url(#spot)"/>
<rect x="449.9" y="107.6" width="10.4" height="12.7" fill="#fff"/>
<rect x="451.7" y="108.8" width="6.8" height="0.7" fill="#cfcfcf"/>
<rect x="450.5" y="110.4" width="8" height="8.5" fill="#282a6d"/>
<rect x="458.65" y="111" width="1.2" height="7.3" fill="url(#cbar)"/>
<ellipse cx="454.7" cy="114.85" rx="2.64" ry="2.64" fill="url(#halo)"/>
<ellipse cx="454.7" cy="113.77" rx="1.88" ry="1.27" fill="url(#spot)"/>
<ellipse cx="454.7" cy="115.93" rx="1.88" ry="1.27" fill="url(#spot)"/>
<rect x="477.4" y="108.5" width="10.7" height="12.8" fill="#fff"/>
<rect x="479.2" y="109.7" width="7.1" height="0.7" fill="#cfcfcf"/>
<rect x="478" y="111.3" width="8.3" height="8.6" fill="#282a6d"/>
<rect x="486.45" y="111.9" width="1.2" height="7.4" fill="url(#cbar)"/>
<circle cx="482.35" cy="115.8" r="2.73" fill="url(#halo)" opacity="0.7"/>
<circle cx="481.23" cy="114.68" r="1.32" fill="url(#spot2)"/>
<circle cx="483.47" cy="116.92" r="1.32" fill="url(#spot)"/>
<rect x="517.7" y="104" width="10.6" height="12.8" fill="#fff"/>
<rect x="519.5" y="105.2" width="7" height="0.7" fill="#cfcfcf"/>
<rect x="518.3" y="106.8" width="8.2" height="8.6" fill="#282a6d"/>
<rect x="526.65" y="107.4" width="1.2" height="7.4" fill="url(#cbar)"/>
<circle cx="522.6" cy="111.3" r="2.7" fill="url(#halo)" opacity="0.7"/>
<circle cx="523.71" cy="110.19" r="1.3" fill="url(#spot2)"/>
<circle cx="521.49" cy="112.41" r="1.3" fill="url(#spot)"/>
<rect x="533.3" y="103.6" width="11" height="12.8" fill="#fff"/>
<rect x="535.1" y="104.8" width="7.4" height="0.7" fill="#cfcfcf"/>
<rect x="533.9" y="106.4" width="8.6" height="8.6" fill="#282a6d"/>
<rect x="542.65" y="107" width="1.2" height="7.4" fill="url(#cbar)"/>
<circle cx="538.4" cy="110.9" r="2.83" fill="url(#halo)" opacity="0.7"/>
<circle cx="539.56" cy="109.74" r="1.37" fill="url(#spot2)"/>
<circle cx="537.24" cy="112.06" r="1.37" fill="url(#spot)"/>
<rect x="437.7" y="121" width="10.8" height="12.8" fill="#fff"/>
<rect x="439.5" y="122.2" width="7.2" height="0.7" fill="#cfcfcf"/>
<rect x="438.3" y="123.8" width="8.4" height="8.6" fill="#282a6d"/>
<rect x="446.85" y="124.4" width="1.2" height="7.4" fill="url(#cbar)"/>
<circle cx="442.7" cy="128.3" r="2.47" fill="url(#spot)"/>
<rect x="477.4" y="121.3" width="10.7" height="12.5" fill="#fff"/>
<rect x="479.2" y="122.5" width="7.1" height="0.7" fill="#cfcfcf"/>
<rect x="478" y="124.1" width="8.3" height="8.3" fill="#282a6d"/>
<rect x="486.45" y="124.7" width="1.2" height="7.1" fill="url(#cbar)"/>
<ellipse cx="482.35" cy="128.45" rx="2.54" ry="2.73" fill="url(#halo)"/>
<circle cx="481.28" cy="127.28" r="1.07" fill="url(#spot2)"/>
<circle cx="481.28" cy="129.62" r="1.07" fill="url(#spot2)"/>
<circle cx="483.42" cy="127.28" r="1.07" fill="url(#spot2)"/>
<circle cx="483.42" cy="129.62" r="1.07" fill="url(#spot2)"/>
<rect x="494.9" y="121.3" width="10.4" height="12.2" fill="#fff"/>
<rect x="496.7" y="122.5" width="6.8" height="0.7" fill="#cfcfcf"/>
<rect x="495.5" y="124.1" width="8" height="8" fill="#282a6d"/>
<rect x="503.65" y="124.7" width="1.2" height="6.8" fill="url(#cbar)"/>
<ellipse cx="499.7" cy="128.3" rx="2.45" ry="2.64" fill="url(#halo)"/>
<circle cx="498.66" cy="127.17" r="1.04" fill="url(#spot2)"/>
<circle cx="498.66" cy="129.43" r="1.04" fill="url(#spot2)"/>
<circle cx="500.74" cy="127.17" r="1.04" fill="url(#spot2)"/>
<circle cx="500.74" cy="129.43" r="1.04" fill="url(#spot2)"/>
<rect x="533.3" y="115.2" width="11" height="12.8" fill="#fff"/>
<rect x="535.1" y="116.4" width="7.4" height="0.7" fill="#cfcfcf"/>
<rect x="533.9" y="118" width="8.6" height="8.6" fill="#282a6d"/>
<rect x="542.65" y="118.6" width="1.2" height="7.4" fill="url(#cbar)"/>
<circle cx="538.4" cy="122.5" r="2.83" fill="url(#halo)" opacity="0.7"/>
<circle cx="537.24" cy="121.34" r="1.37" fill="url(#spot2)"/>
<circle cx="539.56" cy="123.66" r="1.37" fill="url(#spot)"/>
<rect x="524.4" y="128.8" width="10.8" height="12.2" fill="#fff"/>
<rect x="526.2" y="130" width="7.2" height="0.7" fill="#cfcfcf"/>
<rect x="525" y="131.6" width="8.4" height="8" fill="#282a6d"/>
<rect x="533.55" y="132.2" width="1.2" height="6.8" fill="url(#cbar)"/>
<ellipse cx="529.4" cy="135.8" rx="2.45" ry="2.64" fill="url(#halo)"/>
<circle cx="528.36" cy="134.67" r="1.04" fill="url(#spot2)"/>
<circle cx="528.36" cy="136.93" r="1.04" fill="url(#spot2)"/>
<circle cx="530.44" cy="134.67" r="1.04" fill="url(#spot2)"/>
<circle cx="530.44" cy="136.93" r="1.04" fill="url(#spot2)"/>
<line x1="383.45" y1="15.6" x2="383.45" y2="140.4" class="ax"/>
<line x1="383.45" y1="140.4" x2="682.5" y2="140.4" class="ax"/>
<line x1="383.45" y1="140.4" x2="383.45" y2="137.4" class="tk"/>
<text x="383.45" y="152.6" class="tl" text-anchor="middle">0</text>
<line x1="413.36" y1="140.4" x2="413.36" y2="137.4" class="tk"/>
<text x="413.36" y="152.6" class="tl" text-anchor="middle">0.2</text>
<line x1="443.26" y1="140.4" x2="443.26" y2="137.4" class="tk"/>
<text x="443.26" y="152.6" class="tl" text-anchor="middle">0.4</text>
<line x1="473.17" y1="140.4" x2="473.17" y2="137.4" class="tk"/>
<text x="473.17" y="152.6" class="tl" text-anchor="middle">0.6</text>
<line x1="503.07" y1="140.4" x2="503.07" y2="137.4" class="tk"/>
<text x="503.07" y="152.6" class="tl" text-anchor="middle">0.8</text>
<line x1="532.98" y1="140.4" x2="532.98" y2="137.4" class="tk"/>
<text x="532.98" y="152.6" class="tl" text-anchor="middle">1</text>
<line x1="562.88" y1="140.4" x2="562.88" y2="137.4" class="tk"/>
<text x="562.88" y="152.6" class="tl" text-anchor="middle">1.2</text>
<line x1="592.79" y1="140.4" x2="592.79" y2="137.4" class="tk"/>
<text x="592.79" y="152.6" class="tl" text-anchor="middle">1.4</text>
<line x1="622.69" y1="140.4" x2="622.69" y2="137.4" class="tk"/>
<text x="622.69" y="152.6" class="tl" text-anchor="middle">1.6</text>
<line x1="652.6" y1="140.4" x2="652.6" y2="137.4" class="tk"/>
<text x="652.6" y="152.6" class="tl" text-anchor="middle">1.8</text>
<line x1="682.5" y1="140.4" x2="682.5" y2="137.4" class="tk"/>
<text x="682.5" y="152.6" class="tl" text-anchor="middle">2</text>
<line x1="383.45" y1="140.4" x2="386.45" y2="140.4" class="tk"/>
<text x="380.55" y="144.7" class="tl" text-anchor="end">0</text>
<line x1="383.45" y1="115.44" x2="386.45" y2="115.44" class="tk"/>
<text x="380.55" y="119.74" class="tl" text-anchor="end">30</text>
<line x1="383.45" y1="90.48" x2="386.45" y2="90.48" class="tk"/>
<text x="380.55" y="94.78" class="tl" text-anchor="end">60</text>
<line x1="383.45" y1="65.52" x2="386.45" y2="65.52" class="tk"/>
<text x="380.55" y="69.82" class="tl" text-anchor="end">90</text>
<line x1="383.45" y1="40.56" x2="386.45" y2="40.56" class="tk"/>
<text x="380.55" y="44.86" class="tl" text-anchor="end">120</text>
<line x1="383.45" y1="15.6" x2="386.45" y2="15.6" class="tk"/>
<text x="380.55" y="19.9" class="tl" text-anchor="end">150</text>
<line x1="383.45" y1="140.55" x2="682.5" y2="140.55" stroke="#1c74b8" stroke-width="1.2"/>
<text x="535.2" y="50.6" class="an">low quality factors,</text>
<text x="535.2" y="62.1" class="an">damping by water/tissue</text>
<text x="431.6" y="8" class="ti">Modes Displacement (water/tissue)</text>
<text x="532.7" y="165" class="xl" text-anchor="middle">f (MHz)</text>
<text transform="translate(359.9,77) rotate(-90)" class="xl" text-anchor="middle">Displacement (nm)</text>
<text x="350.6" y="7.9" class="pl">c</text>
<line x1="39.92" y1="194.5" x2="39.92" y2="319.3" class="mn"/>
<line x1="47.4" y1="194.5" x2="47.4" y2="319.3" class="mn"/>
<line x1="54.87" y1="194.5" x2="54.87" y2="319.3" class="mn"/>
<line x1="69.82" y1="194.5" x2="69.82" y2="319.3" class="mn"/>
<line x1="77.29" y1="194.5" x2="77.29" y2="319.3" class="mn"/>
<line x1="84.77" y1="194.5" x2="84.77" y2="319.3" class="mn"/>
<line x1="99.71" y1="194.5" x2="99.71" y2="319.3" class="mn"/>
<line x1="107.19" y1="194.5" x2="107.19" y2="319.3" class="mn"/>
<line x1="114.66" y1="194.5" x2="114.66" y2="319.3" class="mn"/>
<line x1="129.61" y1="194.5" x2="129.61" y2="319.3" class="mn"/>
<line x1="137.08" y1="194.5" x2="137.08" y2="319.3" class="mn"/>
<line x1="144.56" y1="194.5" x2="144.56" y2="319.3" class="mn"/>
<line x1="159.5" y1="194.5" x2="159.5" y2="319.3" class="mn"/>
<line x1="166.98" y1="194.5" x2="166.98" y2="319.3" class="mn"/>
<line x1="174.45" y1="194.5" x2="174.45" y2="319.3" class="mn"/>
<line x1="189.4" y1="194.5" x2="189.4" y2="319.3" class="mn"/>
<line x1="196.87" y1="194.5" x2="196.87" y2="319.3" class="mn"/>
<line x1="204.35" y1="194.5" x2="204.35" y2="319.3" class="mn"/>
<line x1="219.29" y1="194.5" x2="219.29" y2="319.3" class="mn"/>
<line x1="226.77" y1="194.5" x2="226.77" y2="319.3" class="mn"/>
<line x1="234.24" y1="194.5" x2="234.24" y2="319.3" class="mn"/>
<line x1="249.19" y1="194.5" x2="249.19" y2="319.3" class="mn"/>
<line x1="256.66" y1="194.5" x2="256.66" y2="319.3" class="mn"/>
<line x1="264.14" y1="194.5" x2="264.14" y2="319.3" class="mn"/>
<line x1="279.08" y1="194.5" x2="279.08" y2="319.3" class="mn"/>
<line x1="286.56" y1="194.5" x2="286.56" y2="319.3" class="mn"/>
<line x1="294.03" y1="194.5" x2="294.03" y2="319.3" class="mn"/>
<line x1="308.98" y1="194.5" x2="308.98" y2="319.3" class="mn"/>
<line x1="316.45" y1="194.5" x2="316.45" y2="319.3" class="mn"/>
<line x1="323.93" y1="194.5" x2="323.93" y2="319.3" class="mn"/>
<line x1="32.45" y1="313.06" x2="331.4" y2="313.06" class="mn"/>
<line x1="32.45" y1="306.82" x2="331.4" y2="306.82" class="mn"/>
<line x1="32.45" y1="300.58" x2="331.4" y2="300.58" class="mn"/>
<line x1="32.45" y1="288.1" x2="331.4" y2="288.1" class="mn"/>
<line x1="32.45" y1="281.86" x2="331.4" y2="281.86" class="mn"/>
<line x1="32.45" y1="275.62" x2="331.4" y2="275.62" class="mn"/>
<line x1="32.45" y1="263.14" x2="331.4" y2="263.14" class="mn"/>
<line x1="32.45" y1="256.9" x2="331.4" y2="256.9" class="mn"/>
<line x1="32.45" y1="250.66" x2="331.4" y2="250.66" class="mn"/>
<line x1="32.45" y1="238.18" x2="331.4" y2="238.18" class="mn"/>
<line x1="32.45" y1="231.94" x2="331.4" y2="231.94" class="mn"/>
<line x1="32.45" y1="225.7" x2="331.4" y2="225.7" class="mn"/>
<line x1="32.45" y1="213.22" x2="331.4" y2="213.22" class="mn"/>
<line x1="32.45" y1="206.98" x2="331.4" y2="206.98" class="mn"/>
<line x1="32.45" y1="200.74" x2="331.4" y2="200.74" class="mn"/>
<line x1="62.34" y1="194.5" x2="62.34" y2="319.3" class="mj"/>
<line x1="92.24" y1="194.5" x2="92.24" y2="319.3" class="mj"/>
<line x1="122.14" y1="194.5" x2="122.14" y2="319.3" class="mj"/>
<line x1="152.03" y1="194.5" x2="152.03" y2="319.3" class="mj"/>
<line x1="181.93" y1="194.5" x2="181.93" y2="319.3" class="mj"/>
<line x1="211.82" y1="194.5" x2="211.82" y2="319.3" class="mj"/>
<line x1="241.72" y1="194.5" x2="241.72" y2="319.3" class="mj"/>
<line x1="271.61" y1="194.5" x2="271.61" y2="319.3" class="mj"/>
<line x1="301.5" y1="194.5" x2="301.5" y2="319.3" class="mj"/>
<line x1="331.4" y1="194.5" x2="331.4" y2="319.3" class="mj"/>
<line x1="32.45" y1="294.34" x2="331.4" y2="294.34" class="mj"/>
<line x1="32.45" y1="269.38" x2="331.4" y2="269.38" class="mj"/>
<line x1="32.45" y1="244.42" x2="331.4" y2="244.42" class="mj"/>
<line x1="32.45" y1="219.46" x2="331.4" y2="219.46" class="mj"/>
<line x1="32.45" y1="194.5" x2="331.4" y2="194.5" class="mj"/>
<path d="M63.68,319.00 L63.80,318.92 L64.54,318.37 L65.29,317.81 L66.04,317.25 L66.78,316.68 L67.53,316.11 L68.28,315.54 L69.03,314.97 L69.78,314.39 L70.52,313.81 L71.27,313.23 L72.02,312.65 L72.77,312.07 L73.51,311.49 L74.26,310.90 L75.01,310.32 L75.75,309.73 L76.50,309.15 L77.25,308.56 L78.00,307.98 L78.75,307.39 L79.49,306.81 L80.24,306.23 L80.99,305.65 L81.73,305.07 L82.48,304.49 L83.23,303.91 L83.98,303.34 L84.72,302.77 L85.47,302.20 L86.22,301.63 L86.97,301.06 L87.72,300.50 L88.46,299.93 L89.21,299.37 L89.96,298.81 L90.70,298.25 L91.45,297.69 L92.20,297.14 L92.95,296.58 L93.69,296.02 L94.44,295.46 L95.19,294.90 L95.94,294.34 L96.69,293.77 L97.43,293.19 L98.18,292.60 L98.93,291.99 L99.68,291.37 L100.42,290.72 L101.17,290.04 L101.92,289.32 L102.66,288.57 L103.41,287.77 L104.16,286.91 L104.91,285.99 L105.66,284.99 L106.40,283.90 L107.15,282.71 L107.25,282.54 L107.36,282.36 L107.46,282.18 L107.57,281.99 L107.67,281.81 L107.78,281.62 L107.88,281.42 L107.90,281.40 L107.99,281.23 L108.09,281.03 L108.20,280.83 L108.30,280.62 L108.41,280.41 L108.51,280.20 L108.62,279.99 L108.65,279.93 L108.72,279.77 L108.82,279.55 L108.93,279.32 L109.03,279.09 L109.14,278.86 L109.24,278.62 L109.35,278.37 L109.39,278.27 L109.45,278.13 L109.56,277.87 L109.66,277.62 L109.77,277.36 L109.87,277.09 L109.98,276.82 L110.08,276.54 L110.14,276.38 L110.18,276.26 L110.29,275.97 L110.39,275.67 L110.50,275.37 L110.60,275.06 L110.71,274.74 L110.81,274.42 L110.89,274.19 L110.92,274.09 L111.02,273.75 L111.13,273.41 L111.23,273.05 L111.34,272.69 L111.44,272.32 L111.55,271.94 L111.63,271.60 L111.65,271.55 L111.75,271.14 L111.86,270.73 L111.96,270.31 L112.07,269.87 L112.17,269.42 L112.28,268.96 L112.38,268.48 L112.49,267.99 L112.59,267.48 L112.70,266.96 L112.80,266.41 L112.91,265.85 L113.01,265.27 L113.12,264.67 L113.13,264.58 L113.22,264.05 L113.32,263.40 L113.43,262.73 L113.53,262.03 L113.64,261.29 L113.74,260.53 L113.85,259.73 L113.88,259.50 L113.95,258.90 L114.06,258.02 L114.16,257.10 L114.27,256.13 L114.37,255.11 L114.48,254.03 L114.58,252.88 L114.62,252.37 L114.68,251.66 L114.79,250.36 L114.89,248.96 L115.00,247.46 L115.10,245.83 L115.21,244.06 L115.31,242.12 L115.37,240.92 L115.42,239.98 L115.52,237.59 L115.63,234.89 L115.73,231.80 L115.84,228.19 L115.94,223.85 L116.05,218.45 L116.12,213.61 L116.15,211.35 L116.25,201.22 L116.36,197.00 L116.40,197.00 L116.46,197.00 L116.57,203.72 L116.67,212.96 L116.78,219.55 L116.87,223.96 L116.88,224.61 L116.99,228.69 L117.09,232.09 L117.20,234.99 L117.30,237.51 L117.41,239.73 L117.51,241.69 L117.61,243.44 L117.72,245.02 L117.82,246.43 L117.93,247.71 L118.03,248.85 L118.14,249.89 L118.24,250.81 L118.35,251.63 L118.36,251.74 L118.45,252.35 L118.56,252.99 L118.66,253.53 L118.77,253.99 L118.87,254.36 L118.98,254.65 L119.08,254.85 L119.11,254.90 L119.18,254.98 L119.29,255.01 L119.39,254.96 L119.50,254.83 L119.60,254.60 L119.71,254.29 L119.81,253.88 L119.86,253.67 L119.92,253.37 L120.02,252.76 L120.13,252.04 L120.23,251.21 L120.34,250.25 L120.44,249.16 L120.55,247.92 L120.60,247.14 L120.65,246.51 L120.75,244.92 L120.86,243.12 L120.96,241.07 L121.07,238.72 L121.17,236.00 L121.28,232.82 L121.35,230.17 L121.38,229.01 L121.49,224.33 L121.59,218.33 L121.70,210.13 L121.80,198.04 L121.90,197.00 L121.91,197.00 L122.01,199.51 L122.10,209.64 L122.11,211.01 L122.22,218.83 L122.32,224.59 L122.43,229.10 L122.53,232.77 L122.64,235.85 L122.74,238.48 L122.85,240.76 L122.95,242.76 L123.06,244.53 L123.16,246.10 L123.27,247.51 L123.37,248.77 L123.48,249.90 L123.58,250.91 L123.59,251.05 L123.68,251.83 L123.79,252.65 L123.89,253.38 L124.00,254.04 L124.10,254.62 L124.21,255.14 L124.31,255.59 L124.34,255.71 L124.42,255.99 L124.52,256.33 L124.63,256.62 L124.73,256.86 L124.84,257.05 L124.94,257.20 L125.05,257.30 L125.09,257.33 L125.15,257.36 L125.25,257.38 L125.36,257.36 L125.46,257.31 L125.57,257.21 L125.67,257.08 L125.78,256.91 L125.84,256.80 L125.88,256.70 L125.99,256.46 L126.09,256.18 L126.20,255.87 L126.30,255.52 L126.41,255.13 L126.51,254.70 L126.59,254.38 L126.61,254.24 L126.72,253.73 L126.82,253.18 L126.93,252.59 L127.03,251.95 L127.14,251.26 L127.24,250.52 L127.33,249.83 L127.35,249.72 L127.45,248.86 L127.56,247.93 L127.66,246.93 L127.77,245.84 L127.87,244.66 L127.98,243.38 L128.08,241.99 L128.18,240.45 L128.29,238.75 L128.39,236.86 L128.50,234.73 L128.60,232.31 L128.71,229.52 L128.81,226.24 L128.83,225.73 L128.92,222.29 L129.02,217.35 L129.13,210.87 L129.23,201.72 L129.34,197.00 L129.40,197.00 L129.44,197.00 L129.55,198.90 L129.57,202.13 L129.65,208.62 L129.75,214.98 L129.86,219.12 L129.96,221.44 L130.07,221.99 L130.17,220.62 L130.28,217.01 L130.32,214.63 L130.38,210.51 L130.49,199.72 L130.59,197.00 L130.60,197.00 L130.70,197.46 L130.80,209.32 L130.91,217.13 L131.01,222.67 L131.07,225.19 L131.11,226.85 L131.22,230.15 L131.32,232.83 L131.43,235.05 L131.53,236.93 L131.64,238.52 L131.74,239.89 L131.82,240.75 L131.85,241.07 L131.95,242.08 L132.06,242.95 L132.16,243.69 L132.27,244.32 L132.37,244.84 L132.48,245.27 L132.56,245.56 L132.58,245.61 L132.68,245.87 L132.79,246.05 L132.89,246.16 L133.00,246.20 L133.10,246.17 L133.21,246.08 L133.31,245.93 L133.42,245.72 L133.52,245.44 L133.63,245.11 L133.73,244.73 L133.84,244.28 L133.94,243.78 L134.05,243.21 L134.06,243.13 L134.15,242.59 L134.25,241.89 L134.36,241.13 L134.46,240.30 L134.57,239.38 L134.67,238.37 L134.78,237.26 L134.81,236.92 L134.88,236.03 L134.99,234.65 L135.09,233.11 L135.20,231.34 L135.30,229.28 L135.41,226.82 L135.51,223.78 L135.55,222.24 L135.61,219.86 L135.72,214.48 L135.82,206.48 L135.93,197.00 L136.00,197.00 L136.03,197.00 L136.14,201.96 L136.24,209.92 L136.30,212.31 L136.35,213.36 L136.45,213.93 L136.56,212.62 L136.66,209.91 L136.77,205.94 L136.87,200.52 L136.98,197.00 L137.05,197.00 L137.08,197.00 L137.18,197.00 L137.20,197.00 L137.29,197.00 L137.39,197.00 L137.50,198.38 L137.60,204.40 L137.71,209.02 L137.80,212.22 L137.81,212.70 L137.92,215.67 L138.02,218.06 L138.13,219.92 L138.23,221.21 L138.34,221.85 L138.44,221.66 L138.54,220.35 L138.65,217.42 L138.75,212.09 L138.86,202.96 L138.96,197.00 L139.00,197.00 L139.07,197.00 L139.17,206.37 L139.28,214.72 L139.29,215.65 L139.38,220.35 L139.49,224.44 L139.59,227.56 L139.70,230.03 L139.80,232.07 L139.91,233.77 L140.01,235.23 L140.04,235.61 L140.11,236.50 L140.22,237.62 L140.32,238.61 L140.43,239.50 L140.53,240.29 L140.64,241.01 L140.74,241.65 L140.79,241.91 L140.85,242.24 L140.95,242.76 L141.06,243.23 L141.16,243.64 L141.27,244.01 L141.37,244.33 L141.48,244.60 L141.53,244.73 L141.58,244.82 L141.68,244.99 L141.79,245.11 L141.89,245.19 L142.00,245.21 L142.10,245.17 L142.21,245.08 L142.28,244.98 L142.31,244.93 L142.42,244.72 L142.52,244.44 L142.63,244.08 L142.73,243.65 L142.84,243.12 L142.94,242.51 L143.03,241.90 L143.04,241.79 L143.15,240.94 L143.25,239.97 L143.36,238.84 L143.46,237.52 L143.57,235.99 L143.67,234.19 L143.78,232.06 L143.88,229.48 L143.99,226.29 L144.09,222.24 L144.20,216.83 L144.30,209.10 L144.41,197.26 L144.50,197.00 L144.51,197.00 L144.53,197.00 L144.61,199.63 L144.72,209.62 L144.82,214.78 L144.93,216.48 L145.03,215.44 L145.14,211.99 L145.24,206.03 L145.27,203.77 L145.35,197.00 L145.45,197.00 L145.50,197.00 L145.56,197.00 L145.66,197.50 L145.77,206.78 L145.87,213.27 L145.98,218.15 L146.02,219.91 L146.08,222.01 L146.18,225.17 L146.29,227.82 L146.39,230.07 L146.50,232.02 L146.60,233.72 L146.71,235.21 L146.77,235.98 L146.81,236.52 L146.92,237.68 L147.02,238.69 L147.13,239.57 L147.23,240.34 L147.34,241.00 L147.44,241.55 L147.52,241.88 L147.54,242.00 L147.65,242.35 L147.75,242.60 L147.86,242.74 L147.96,242.79 L148.07,242.72 L148.17,242.54 L148.26,242.30 L148.28,242.25 L148.38,241.82 L148.49,241.27 L148.59,240.56 L148.70,239.69 L148.80,238.64 L148.91,237.40 L149.01,235.93 L149.11,234.20 L149.22,232.18 L149.32,229.80 L149.43,226.97 L149.53,223.58 L149.64,219.42 L149.74,214.16 L149.76,213.29 L149.85,207.18 L149.95,197.18 L150.06,197.00 L150.10,197.00 L150.16,197.00 L150.27,198.98 L150.37,208.23 L150.48,214.76 L150.50,216.31 L150.58,219.73 L150.68,223.70 L150.79,226.98 L150.89,229.75 L151.00,232.13 L151.10,234.21 L151.21,236.04 L151.25,236.76 L151.31,237.67 L151.42,239.13 L151.52,240.44 L151.63,241.63 L151.73,242.71 L151.84,243.69 L151.94,244.59 L152.00,245.07 L152.04,245.42 L152.15,246.18 L152.25,246.87 L152.36,247.51 L152.46,248.10 L152.57,248.65 L152.67,249.15 L152.75,249.48 L152.78,249.61 L152.88,250.03 L152.99,250.41 L153.09,250.76 L153.20,251.08 L153.30,251.37 L153.41,251.62 L153.50,251.82 L153.51,251.85 L153.61,252.04 L153.72,252.21 L153.82,252.35 L153.93,252.45 L154.03,252.53 L154.14,252.57 L154.24,252.59 L154.35,252.56 L154.45,252.51 L154.56,252.41 L154.66,252.28 L154.77,252.10 L154.87,251.88 L154.98,251.61 L154.99,251.56 L155.08,251.28 L155.18,250.89 L155.29,250.44 L155.39,249.92 L155.50,249.32 L155.60,248.63 L155.71,247.84 L155.74,247.59 L155.81,246.93 L155.92,245.89 L156.02,244.71 L156.13,243.35 L156.23,241.79 L156.34,240.00 L156.44,237.91 L156.48,236.91 L156.54,235.47 L156.65,232.57 L156.75,229.09 L156.86,224.79 L156.96,219.30 L157.07,211.89 L157.17,201.09 L157.23,197.00 L157.28,197.00 L157.30,197.00 L157.38,197.00 L157.49,207.55 L157.59,216.07 L157.70,222.15 L157.80,226.78 L157.91,230.46 L157.98,232.66 L158.01,233.46 L158.11,235.96 L158.22,238.05 L158.32,239.82 L158.43,241.32 L158.53,242.60 L158.64,243.68 L158.73,244.48 L158.74,244.60 L158.85,245.36 L158.95,245.98 L159.06,246.48 L159.16,246.87 L159.27,247.15 L159.37,247.33 L159.47,247.43 L159.58,247.43 L159.68,247.34 L159.79,247.17 L159.89,246.92 L160.00,246.58 L160.10,246.16 L160.21,245.66 L160.22,245.58 L160.31,245.06 L160.42,244.38 L160.52,243.60 L160.63,242.72 L160.73,241.74 L160.84,240.64 L160.94,239.41 L160.97,239.04 L161.04,238.05 L161.15,236.53 L161.25,234.83 L161.36,232.92 L161.46,230.78 L161.57,228.35 L161.67,225.55 L161.72,224.22 L161.78,222.30 L161.88,218.43 L161.99,213.69 L162.09,207.65 L162.20,199.42 L162.30,197.00 L162.40,197.00 L162.41,197.00 L162.47,197.00 L162.51,197.00 L162.61,200.12 L162.72,207.94 L162.82,213.71 L162.93,218.23 L163.03,221.93 L163.14,225.03 L163.21,226.98 L163.24,227.70 L163.35,230.03 L163.45,232.09 L163.56,233.92 L163.66,235.57 L163.77,237.06 L163.87,238.41 L163.96,239.48 L163.97,239.65 L164.08,240.78 L164.18,241.82 L164.29,242.77 L164.39,243.65 L164.50,244.47 L164.60,245.22 L164.71,245.91 L164.81,246.56 L164.92,247.15 L165.02,247.70 L165.13,248.20 L165.23,248.67 L165.34,249.09 L165.44,249.48 L165.46,249.54 L165.54,249.84 L165.65,250.16 L165.75,250.45 L165.86,250.70 L165.96,250.92 L166.07,251.12 L166.17,251.28 L166.20,251.32 L166.28,251.41 L166.38,251.50 L166.49,251.57 L166.59,251.60 L166.70,251.60 L166.80,251.56 L166.91,251.49 L166.95,251.45 L167.01,251.38 L167.11,251.23 L167.22,251.03 L167.32,250.79 L167.43,250.50 L167.53,250.16 L167.64,249.76 L167.70,249.50 L167.74,249.29 L167.85,248.76 L167.95,248.15 L168.06,247.44 L168.16,246.64 L168.27,245.73 L168.37,244.69 L168.45,243.86 L168.47,243.50 L168.58,242.13 L168.68,240.56 L168.79,238.74 L168.89,236.60 L169.00,234.08 L169.10,231.04 L169.19,227.90 L169.21,227.32 L169.31,222.61 L169.42,216.38 L169.52,207.59 L169.63,197.00 L169.70,197.00 L169.73,197.00 L169.84,202.54 L169.94,212.69 L170.04,219.46 L170.15,224.19 L170.25,227.55 L170.36,229.86 L170.46,231.29 L170.57,231.93 L170.67,231.84 L170.69,231.77 L170.78,231.04 L170.88,229.51 L170.99,227.20 L171.09,224.02 L171.20,219.72 L171.30,213.89 L171.41,205.63 L171.44,202.60 L171.51,197.00 L171.60,197.00 L171.61,197.00 L171.72,197.01 L171.82,208.02 L171.93,215.48 L172.03,220.94 L172.14,225.19 L172.18,226.74 L172.24,228.61 L172.35,231.46 L172.45,233.86 L172.56,235.93 L172.66,237.73 L172.77,239.31 L172.87,240.71 L172.93,241.43 L172.97,241.95 L173.08,243.06 L173.18,244.06 L173.29,244.96 L173.39,245.77 L173.50,246.50 L173.60,247.17 L173.68,247.61 L173.71,247.78 L173.81,248.33 L173.92,248.82 L174.02,249.28 L174.13,249.69 L174.23,250.06 L174.34,250.39 L174.43,250.64 L174.44,250.69 L174.54,250.95 L174.65,251.18 L174.75,251.39 L174.86,251.57 L174.96,251.71 L175.07,251.84 L175.17,251.93 L175.28,252.00 L175.38,252.05 L175.49,252.07 L175.59,252.07 L175.70,252.04 L175.80,251.99 L175.91,251.92 L175.92,251.90 L176.01,251.82 L176.11,251.69 L176.22,251.53 L176.32,251.35 L176.43,251.15 L176.53,250.91 L176.64,250.64 L176.67,250.56 L176.74,250.35 L176.85,250.02 L176.95,249.66 L177.06,249.26 L177.16,248.82 L177.27,248.35 L177.37,247.83 L177.41,247.60 L177.47,247.27 L177.58,246.66 L177.68,246.00 L177.79,245.29 L177.89,244.52 L178.00,243.68 L178.10,242.78 L178.16,242.22 L178.21,241.79 L178.31,240.73 L178.42,239.57 L178.52,238.30 L178.63,236.92 L178.73,235.40 L178.84,233.72 L178.91,232.41 L178.94,231.86 L179.04,229.78 L179.15,227.43 L179.25,224.75 L179.36,221.65 L179.46,217.97 L179.57,213.49 L179.66,208.73 L179.67,207.82 L179.78,200.18 L179.88,197.00 L179.99,197.00 L180.00,197.00 L180.09,197.00 L180.20,197.93 L180.30,206.42 L180.41,212.63 L180.51,217.49 L180.61,221.48 L180.72,224.85 L180.82,227.76 L180.93,230.33 L181.03,232.62 L181.14,234.68 L181.15,234.96 L181.24,236.56 L181.35,238.28 L181.45,239.86 L181.56,241.33 L181.66,242.70 L181.77,243.98 L181.87,245.18 L181.90,245.51 L181.97,246.31 L182.08,247.37 L182.18,248.38 L182.29,249.33 L182.39,250.24 L182.50,251.11 L182.60,251.93 L182.65,252.27 L182.71,252.72 L182.81,253.47 L182.92,254.20 L183.02,254.89 L183.13,255.56 L183.23,256.20 L183.34,256.82 L183.40,257.16 L183.44,257.41 L183.54,257.99 L183.65,258.54 L183.75,259.08 L183.86,259.60 L183.96,260.10 L184.07,260.59 L184.14,260.93 L184.17,261.06 L184.28,261.52 L184.38,261.97 L184.49,262.40 L184.59,262.83 L184.70,263.24 L184.80,263.64 L184.89,263.97 L184.90,264.03 L185.01,264.41 L185.11,264.78 L185.22,265.14 L185.32,265.50 L185.43,265.84 L185.53,266.18 L185.64,266.51 L185.74,266.83 L185.85,267.15 L185.95,267.45 L186.06,267.76 L186.16,268.05 L186.27,268.34 L186.37,268.62 L186.39,268.66 L186.47,268.90 L186.58,269.17 L186.68,269.43 L186.79,269.69 L186.89,269.95 L187.00,270.20 L187.10,270.45 L187.13,270.52 L187.21,270.69 L187.31,270.92 L187.42,271.15 L187.52,271.38 L187.63,271.61 L187.73,271.83 L187.84,272.04 L187.88,272.13 L187.94,272.25 L188.04,272.46 L188.15,272.67 L188.25,272.87 L188.36,273.07 L188.46,273.26 L188.57,273.45 L188.63,273.56 L188.67,273.64 L188.78,273.83 L188.88,274.01 L188.99,274.19 L189.09,274.37 L189.20,274.54 L189.30,274.72 L189.38,274.84 L189.40,274.88 L189.51,275.05 L189.61,275.22 L189.72,275.38 L189.82,275.54 L189.93,275.70 L190.03,275.85 L190.12,275.98 L190.14,276.00 L190.24,276.16 L190.35,276.30 L190.45,276.45 L190.56,276.60 L190.66,276.74 L190.77,276.88 L190.87,277.02 L191.62,277.97 L192.37,278.83 L193.11,279.63 L193.86,280.37 L194.61,281.06 L195.36,281.70 L196.10,282.31 L196.85,282.88 L197.60,283.42 L198.35,283.95 L199.09,284.44 L199.84,284.92 L200.59,285.38 L201.33,285.82 L202.08,286.24 L202.83,286.65 L203.58,287.04 L204.32,287.42 L205.07,287.79 L205.82,288.14 L206.57,288.49 L207.31,288.82 L208.06,289.15 L208.81,289.46 L209.56,289.77 L210.31,290.07 L211.05,290.37 L211.80,290.65 L212.55,290.94 L213.29,291.21 L214.04,291.48 L214.79,291.75 L215.54,292.01 L216.28,292.27 L217.03,292.52 L217.78,292.76 L218.53,293.01 L219.28,293.25 L220.02,293.48 L220.77,293.71 L221.52,293.94 L222.27,294.16 L223.01,294.38 L223.76,294.60 L224.51,294.81 L225.26,295.02 L226.00,295.23 L226.75,295.44 L227.50,295.64 L228.25,295.84 L228.99,296.03 L229.74,296.23 L230.49,296.42 L231.24,296.60 L231.98,296.79 L232.73,296.97 L233.48,297.15 L234.23,297.33 L234.97,297.51 L235.72,297.68 L236.47,297.86 L237.22,298.03 L237.96,298.20 L238.71,298.36 L239.46,298.53 L240.20,298.69 L240.95,298.85 L241.70,299.01 L242.45,299.17 L243.19,299.32 L243.94,299.48 L244.69,299.63 L245.44,299.78 L246.19,299.93 L246.93,300.08 L247.68,300.23 L248.43,300.37 L249.18,300.51 L249.92,300.66 L250.67,300.80 L251.42,300.94 L252.16,301.07 L252.91,301.21 L253.66,301.35 L254.41,301.48 L255.16,301.61 L255.90,301.74 L256.65,301.87 L257.40,302.00 L258.14,302.13 L258.89,302.26 L259.64,302.38 L260.39,302.51 L261.13,302.63 L261.88,302.76 L262.63,302.88 L263.38,303.00 L264.12,303.12 L264.87,303.24 L265.62,303.35 L266.37,303.47 L267.12,303.59 L267.86,303.70 L268.61,303.82 L269.36,303.93 L270.11,304.04 L270.85,304.15 L271.60,304.27 L272.35,304.38 L273.10,304.49 L273.84,304.59 L274.59,304.70 L275.34,304.81 L276.08,304.92 L276.83,305.02 L277.58,305.13 L278.33,305.23 L279.07,305.34 L279.82,305.44 L280.57,305.54 L281.32,305.65 L282.06,305.75 L282.81,305.85 L283.56,305.95 L284.31,306.05 L285.06,306.15 L285.80,306.25 L286.55,306.35 L287.30,306.45 L288.04,306.54 L288.79,306.64 L289.54,306.74 L290.29,306.83 L291.03,306.93 L291.78,307.03 L292.53,307.12 L293.28,307.22 L294.02,307.31 L294.77,307.41 L295.52,307.50 L296.27,307.60 L297.01,307.69 L297.76,307.78 L298.51,307.88 L299.26,307.97 L300.00,308.06 L300.75,308.15 L301.50,308.25 L302.25,308.34 L303.00,308.43 L303.74,308.52 L304.49,308.62 L305.24,308.71 L305.99,308.80 L306.73,308.89 L307.48,308.98 L308.23,309.07 L308.97,309.16 L309.72,309.25 L310.47,309.35 L311.22,309.44 L311.96,309.53 L312.71,309.62 L313.46,309.71 L314.21,309.80 L314.95,309.89 L315.70,309.98 L316.45,310.07 L317.20,310.16 L317.94,310.26 L318.69,310.35 L319.44,310.44 L320.19,310.53 L320.93,310.62 L321.68,310.71 L322.43,310.81 L323.18,310.90 L323.92,310.99 L324.67,311.08 L325.42,311.17 L326.17,311.27 L326.91,311.36 L327.66,311.45 L328.41,311.55 L329.16,311.64 L329.90,311.73 L330.65,311.83 L331.40,311.92" fill="none" stroke="#000" stroke-width="1.05" stroke-linejoin="round"/>
<rect x="106.5" y="195" width="83.5" height="63.5" rx="7" ry="7" fill="none" stroke="#c0353a" stroke-width="1.2"/>
<line x1="190" y1="219.6" x2="207" y2="219.6" stroke="#c0353a" stroke-width="1.1"/>
<path d="M210.4,219.6 L206.1,217.4 L206.8,219.6 L206.1,221.8 Z" fill="#c0353a"/>
<line x1="32.45" y1="194.5" x2="32.45" y2="319.3" class="ax"/>
<line x1="32.45" y1="319.3" x2="331.4" y2="319.3" class="ax"/>
<line x1="32.45" y1="319.3" x2="32.45" y2="316.3" class="tk"/>
<text x="32.45" y="331.5" class="tl" text-anchor="middle">0</text>
<line x1="62.34" y1="319.3" x2="62.34" y2="316.3" class="tk"/>
<text x="62.34" y="331.5" class="tl" text-anchor="middle">0.2</text>
<line x1="92.24" y1="319.3" x2="92.24" y2="316.3" class="tk"/>
<text x="92.24" y="331.5" class="tl" text-anchor="middle">0.4</text>
<line x1="122.14" y1="319.3" x2="122.14" y2="316.3" class="tk"/>
<text x="122.14" y="331.5" class="tl" text-anchor="middle">0.6</text>
<line x1="152.03" y1="319.3" x2="152.03" y2="316.3" class="tk"/>
<text x="152.03" y="331.5" class="tl" text-anchor="middle">0.8</text>
<line x1="181.93" y1="319.3" x2="181.93" y2="316.3" class="tk"/>
<text x="181.93" y="331.5" class="tl" text-anchor="middle">1</text>
<line x1="211.82" y1="319.3" x2="211.82" y2="316.3" class="tk"/>
<text x="211.82" y="331.5" class="tl" text-anchor="middle">1.2</text>
<line x1="241.72" y1="319.3" x2="241.72" y2="316.3" class="tk"/>
<text x="241.72" y="331.5" class="tl" text-anchor="middle">1.4</text>
<line x1="271.61" y1="319.3" x2="271.61" y2="316.3" class="tk"/>
<text x="271.61" y="331.5" class="tl" text-anchor="middle">1.6</text>
<line x1="301.5" y1="319.3" x2="301.5" y2="316.3" class="tk"/>
<text x="301.5" y="331.5" class="tl" text-anchor="middle">1.8</text>
<line x1="331.4" y1="319.3" x2="331.4" y2="316.3" class="tk"/>
<text x="331.4" y="331.5" class="tl" text-anchor="middle">2</text>
<line x1="32.45" y1="319.3" x2="35.45" y2="319.3" class="tk"/>
<text x="29.55" y="323.6" class="tl" text-anchor="end">80</text>
<line x1="32.45" y1="294.34" x2="35.45" y2="294.34" class="tk"/>
<text x="29.55" y="298.64" class="tl" text-anchor="end">100</text>
<line x1="32.45" y1="269.38" x2="35.45" y2="269.38" class="tk"/>
<text x="29.55" y="273.68" class="tl" text-anchor="end">120</text>
<line x1="32.45" y1="244.42" x2="35.45" y2="244.42" class="tk"/>
<text x="29.55" y="248.72" class="tl" text-anchor="end">140</text>
<line x1="32.45" y1="219.46" x2="35.45" y2="219.46" class="tk"/>
<text x="29.55" y="223.76" class="tl" text-anchor="end">160</text>
<line x1="32.45" y1="194.5" x2="35.45" y2="194.5" class="tk"/>
<text x="29.55" y="198.8" class="tl" text-anchor="end">180</text>
<text x="213.6" y="216.9" class="an">modes are not merging,</text>
<text x="213.6" y="228.6" class="an">multiple fractional bands</text>
<text x="99.6" y="188.7" class="ti">Sound Pressure Level (air)</text>
<text x="181.7" y="344" class="xl" text-anchor="middle">f (MHz)</text>
<text transform="translate(8.9,256.7) rotate(-90)" class="xl" text-anchor="middle">SPL (dB)</text>
<text x="-0.4" y="188.5" class="pl">b</text>
<line x1="390.93" y1="196.4" x2="390.93" y2="321.3" class="mn"/>
<line x1="398.4" y1="196.4" x2="398.4" y2="321.3" class="mn"/>
<line x1="405.88" y1="196.4" x2="405.88" y2="321.3" class="mn"/>
<line x1="420.83" y1="196.4" x2="420.83" y2="321.3" class="mn"/>
<line x1="428.31" y1="196.4" x2="428.31" y2="321.3" class="mn"/>
<line x1="435.78" y1="196.4" x2="435.78" y2="321.3" class="mn"/>
<line x1="450.74" y1="196.4" x2="450.74" y2="321.3" class="mn"/>
<line x1="458.21" y1="196.4" x2="458.21" y2="321.3" class="mn"/>
<line x1="465.69" y1="196.4" x2="465.69" y2="321.3" class="mn"/>
<line x1="480.64" y1="196.4" x2="480.64" y2="321.3" class="mn"/>
<line x1="488.12" y1="196.4" x2="488.12" y2="321.3" class="mn"/>
<line x1="495.59" y1="196.4" x2="495.59" y2="321.3" class="mn"/>
<line x1="510.55" y1="196.4" x2="510.55" y2="321.3" class="mn"/>
<line x1="518.02" y1="196.4" x2="518.02" y2="321.3" class="mn"/>
<line x1="525.5" y1="196.4" x2="525.5" y2="321.3" class="mn"/>
<line x1="540.45" y1="196.4" x2="540.45" y2="321.3" class="mn"/>
<line x1="547.93" y1="196.4" x2="547.93" y2="321.3" class="mn"/>
<line x1="555.4" y1="196.4" x2="555.4" y2="321.3" class="mn"/>
<line x1="570.36" y1="196.4" x2="570.36" y2="321.3" class="mn"/>
<line x1="577.83" y1="196.4" x2="577.83" y2="321.3" class="mn"/>
<line x1="585.31" y1="196.4" x2="585.31" y2="321.3" class="mn"/>
<line x1="600.26" y1="196.4" x2="600.26" y2="321.3" class="mn"/>
<line x1="607.74" y1="196.4" x2="607.74" y2="321.3" class="mn"/>
<line x1="615.21" y1="196.4" x2="615.21" y2="321.3" class="mn"/>
<line x1="630.17" y1="196.4" x2="630.17" y2="321.3" class="mn"/>
<line x1="637.64" y1="196.4" x2="637.64" y2="321.3" class="mn"/>
<line x1="645.12" y1="196.4" x2="645.12" y2="321.3" class="mn"/>
<line x1="660.07" y1="196.4" x2="660.07" y2="321.3" class="mn"/>
<line x1="667.55" y1="196.4" x2="667.55" y2="321.3" class="mn"/>
<line x1="675.02" y1="196.4" x2="675.02" y2="321.3" class="mn"/>
<line x1="383.45" y1="317.73" x2="682.5" y2="317.73" class="mn"/>
<line x1="383.45" y1="314.16" x2="682.5" y2="314.16" class="mn"/>
<line x1="383.45" y1="310.59" x2="682.5" y2="310.59" class="mn"/>
<line x1="383.45" y1="307.03" x2="682.5" y2="307.03" class="mn"/>
<line x1="383.45" y1="299.89" x2="682.5" y2="299.89" class="mn"/>
<line x1="383.45" y1="296.32" x2="682.5" y2="296.32" class="mn"/>
<line x1="383.45" y1="292.75" x2="682.5" y2="292.75" class="mn"/>
<line x1="383.45" y1="289.18" x2="682.5" y2="289.18" class="mn"/>
<line x1="383.45" y1="282.05" x2="682.5" y2="282.05" class="mn"/>
<line x1="383.45" y1="278.48" x2="682.5" y2="278.48" class="mn"/>
<line x1="383.45" y1="274.91" x2="682.5" y2="274.91" class="mn"/>
<line x1="383.45" y1="271.34" x2="682.5" y2="271.34" class="mn"/>
<line x1="383.45" y1="264.2" x2="682.5" y2="264.2" class="mn"/>
<line x1="383.45" y1="260.63" x2="682.5" y2="260.63" class="mn"/>
<line x1="383.45" y1="257.07" x2="682.5" y2="257.07" class="mn"/>
<line x1="383.45" y1="253.5" x2="682.5" y2="253.5" class="mn"/>
<line x1="383.45" y1="246.36" x2="682.5" y2="246.36" class="mn"/>
<line x1="383.45" y1="242.79" x2="682.5" y2="242.79" class="mn"/>
<line x1="383.45" y1="239.22" x2="682.5" y2="239.22" class="mn"/>
<line x1="383.45" y1="235.65" x2="682.5" y2="235.65" class="mn"/>
<line x1="383.45" y1="228.52" x2="682.5" y2="228.52" class="mn"/>
<line x1="383.45" y1="224.95" x2="682.5" y2="224.95" class="mn"/>
<line x1="383.45" y1="221.38" x2="682.5" y2="221.38" class="mn"/>
<line x1="383.45" y1="217.81" x2="682.5" y2="217.81" class="mn"/>
<line x1="383.45" y1="210.67" x2="682.5" y2="210.67" class="mn"/>
<line x1="383.45" y1="207.11" x2="682.5" y2="207.11" class="mn"/>
<line x1="383.45" y1="203.54" x2="682.5" y2="203.54" class="mn"/>
<line x1="383.45" y1="199.97" x2="682.5" y2="199.97" class="mn"/>
<line x1="413.36" y1="196.4" x2="413.36" y2="321.3" class="mj"/>
<line x1="443.26" y1="196.4" x2="443.26" y2="321.3" class="mj"/>
<line x1="473.17" y1="196.4" x2="473.17" y2="321.3" class="mj"/>
<line x1="503.07" y1="196.4" x2="503.07" y2="321.3" class="mj"/>
<line x1="532.98" y1="196.4" x2="532.98" y2="321.3" class="mj"/>
<line x1="562.88" y1="196.4" x2="562.88" y2="321.3" class="mj"/>
<line x1="592.79" y1="196.4" x2="592.79" y2="321.3" class="mj"/>
<line x1="622.69" y1="196.4" x2="622.69" y2="321.3" class="mj"/>
<line x1="652.6" y1="196.4" x2="652.6" y2="321.3" class="mj"/>
<line x1="682.5" y1="196.4" x2="682.5" y2="321.3" class="mj"/>
<line x1="383.45" y1="303.46" x2="682.5" y2="303.46" class="mj"/>
<line x1="383.45" y1="285.61" x2="682.5" y2="285.61" class="mj"/>
<line x1="383.45" y1="267.77" x2="682.5" y2="267.77" class="mj"/>
<line x1="383.45" y1="249.93" x2="682.5" y2="249.93" class="mj"/>
<line x1="383.45" y1="232.09" x2="682.5" y2="232.09" class="mj"/>
<line x1="383.45" y1="214.24" x2="682.5" y2="214.24" class="mj"/>
<line x1="383.45" y1="196.4" x2="682.5" y2="196.4" class="mj"/>
<path d="M399.10,320.78 L399.80,319.46 L400.50,318.18 L401.20,316.92 L401.90,315.68 L402.60,314.48 L403.30,313.30 L404.00,312.15 L404.70,311.02 L405.40,309.93 L406.10,308.85 L406.80,307.81 L407.50,306.79 L408.20,305.80 L408.90,304.83 L409.60,303.89 L410.30,302.98 L411.00,302.09 L411.70,301.23 L412.40,300.39 L413.10,299.58 L413.80,298.79 L414.50,298.03 L415.20,297.29 L415.90,296.57 L416.60,295.86 L417.30,295.17 L418.00,294.48 L418.70,293.80 L419.40,293.11 L420.10,292.42 L420.80,291.72 L421.50,291.01 L422.20,290.29 L422.90,289.54 L423.60,288.77 L424.30,287.99 L425.00,287.19 L425.70,286.38 L426.40,285.56 L427.10,284.72 L427.80,283.88 L428.50,283.04 L429.20,282.19 L429.90,281.34 L430.60,280.48 L431.30,279.64 L432.00,278.79 L432.70,277.94 L433.40,277.09 L434.10,276.25 L434.80,275.40 L435.50,274.55 L436.20,273.69 L436.90,272.84 L437.60,271.98 L438.30,271.12 L439.00,270.25 L439.70,269.38 L440.40,268.49 L441.10,267.60 L441.80,266.69 L442.50,265.77 L443.20,264.82 L443.90,263.86 L444.60,262.86 L445.30,261.84 L446.00,260.79 L446.70,259.70 L447.40,258.58 L448.10,257.42 L448.80,256.22 L449.50,254.97 L450.20,253.67 L450.90,252.32 L451.60,250.92 L452.30,249.47 L453.00,247.97 L453.70,246.44 L454.40,244.86 L455.10,243.26 L455.80,241.64 L456.50,239.99 L457.20,238.36 L457.90,236.77 L458.60,235.24 L459.30,233.82 L460.00,232.53 L460.70,231.39 L461.40,230.39 L462.10,229.53 L462.80,228.78 L463.50,228.12 L464.20,227.53 L464.90,227.00 L465.60,226.52 L466.30,226.05 L467.00,225.60 L467.70,225.15 L468.40,224.68 L469.10,224.18 L469.80,223.65 L470.50,223.09 L471.20,222.50 L471.90,221.90 L472.60,221.28 L473.30,220.65 L474.00,220.02 L474.70,219.39 L475.40,218.77 L476.10,218.15 L476.80,217.55 L477.50,216.98 L478.20,216.42 L478.90,215.90 L479.60,215.41 L480.30,214.97 L481.00,214.56 L481.70,214.21 L482.40,213.91 L483.10,213.67 L483.80,213.47 L484.50,213.33 L485.20,213.23 L485.90,213.17 L486.60,213.16 L487.30,213.19 L488.00,213.26 L488.70,213.37 L489.40,213.51 L490.10,213.69 L490.80,213.90 L491.50,214.14 L492.20,214.41 L492.90,214.70 L493.60,215.03 L494.30,215.37 L495.00,215.74 L495.70,216.12 L496.40,216.50 L497.10,216.87 L497.80,217.22 L498.50,217.54 L499.20,217.81 L499.90,218.03 L500.60,218.19 L501.30,218.30 L502.00,218.37 L502.70,218.41 L503.40,218.43 L504.10,218.45 L504.80,218.47 L505.50,218.49 L506.20,218.52 L506.90,218.54 L507.60,218.54 L508.30,218.53 L509.00,218.49 L509.70,218.42 L510.40,218.31 L511.10,218.15 L511.80,217.97 L512.50,217.77 L513.20,217.57 L513.90,217.38 L514.60,217.22 L515.30,217.11 L516.00,217.05 L516.70,217.07 L517.40,217.18 L518.10,217.37 L518.80,217.65 L519.50,218.02 L520.20,218.46 L520.90,218.97 L521.60,219.55 L522.30,220.20 L523.00,220.92 L523.70,221.69 L524.40,222.52 L525.10,223.40 L525.80,224.33 L526.50,225.30 L527.20,226.32 L527.90,227.37 L528.60,228.46 L529.30,229.58 L530.00,230.73 L530.70,231.91 L531.40,233.12 L532.10,234.35 L532.80,235.61 L533.50,236.88 L534.20,238.13 L534.90,239.33 L535.60,240.46 L536.30,241.48 L537.00,242.38 L537.70,243.17 L538.40,243.88 L539.10,244.52 L539.80,245.13 L540.50,245.72 L541.20,246.32 L541.90,246.94 L542.60,247.60 L543.30,248.29 L544.00,248.99 L544.70,249.70 L545.40,250.41 L546.10,251.11 L546.80,251.78 L547.50,252.42 L548.20,253.03 L548.90,253.61 L549.60,254.16 L550.30,254.68 L551.00,255.18 L551.70,255.67 L552.40,256.14 L553.10,256.61 L553.80,257.07 L554.50,257.52 L555.20,257.96 L555.90,258.40 L556.60,258.83 L557.30,259.24 L558.00,259.66 L558.70,260.06 L559.40,260.45 L560.10,260.84 L560.80,261.21 L561.50,261.58 L562.20,261.94 L562.90,262.29 L563.60,262.63 L564.30,262.97 L565.00,263.29 L565.70,263.61 L566.40,263.93 L567.10,264.23 L567.80,264.53 L568.50,264.83 L569.20,265.11 L569.90,265.40 L570.60,265.67 L571.30,265.94 L572.00,266.21 L572.70,266.47 L573.40,266.72 L574.10,266.97 L574.80,267.22 L575.50,267.46 L576.20,267.70 L576.90,267.94 L577.60,268.17 L578.30,268.40 L579.00,268.62 L579.70,268.84 L580.40,269.06 L581.10,269.28 L581.80,269.50 L582.50,269.71 L583.20,269.92 L583.90,270.13 L584.60,270.34 L585.30,270.54 L586.00,270.75 L586.70,270.95 L587.40,271.15 L588.10,271.36 L588.80,271.56 L589.50,271.76 L590.20,271.96 L590.90,272.16 L591.60,272.35 L592.30,272.55 L593.00,272.75 L593.70,272.95 L594.40,273.15 L595.10,273.35 L595.80,273.55 L596.50,273.75 L597.20,273.96 L597.90,274.16 L598.60,274.37 L599.30,274.57 L600.00,274.78 L600.70,274.99 L601.40,275.20 L602.10,275.41 L602.80,275.63 L603.50,275.84 L604.20,276.06 L604.90,276.27 L605.60,276.49 L606.30,276.70 L607.00,276.90 L607.70,277.10 L608.40,277.30 L609.10,277.49 L609.80,277.68 L610.50,277.85 L611.20,278.02 L611.90,278.18 L612.60,278.34 L613.30,278.50 L614.00,278.65 L614.70,278.80 L615.40,278.96 L616.10,279.11 L616.80,279.27 L617.50,279.44 L618.20,279.61 L618.90,279.78 L619.60,279.96 L620.30,280.14 L621.00,280.32 L621.70,280.51 L622.40,280.69 L623.10,280.88 L623.80,281.07 L624.50,281.26 L625.20,281.44 L625.90,281.63 L626.60,281.81 L627.30,282.00 L628.00,282.18 L628.70,282.35 L629.40,282.53 L630.10,282.70 L630.80,282.87 L631.50,283.03 L632.20,283.19 L632.90,283.35 L633.60,283.51 L634.30,283.66 L635.00,283.81 L635.70,283.96 L636.40,284.11 L637.10,284.25 L637.80,284.39 L638.50,284.53 L639.20,284.66 L639.90,284.80 L640.60,284.93 L641.30,285.06 L642.00,285.18 L642.70,285.31 L643.40,285.43 L644.10,285.55 L644.80,285.67 L645.50,285.79 L646.20,285.90 L646.90,286.02 L647.60,286.13 L648.30,286.24 L649.00,286.35 L649.70,286.45 L650.40,286.56 L651.10,286.66 L651.80,286.77 L652.50,286.87 L653.20,286.97 L653.90,287.07 L654.60,287.17 L655.30,287.27 L656.00,287.36 L656.70,287.46 L657.40,287.55 L658.10,287.65 L658.80,287.74 L659.50,287.83 L660.20,287.92 L660.90,288.02 L661.60,288.11 L662.30,288.20 L663.00,288.29 L663.70,288.38 L664.40,288.47 L665.10,288.56 L665.80,288.65 L666.50,288.74 L667.20,288.83 L667.90,288.92 L668.60,289.01 L669.30,289.10 L670.00,289.19 L670.70,289.28 L671.40,289.37 L672.10,289.46 L672.80,289.55 L673.50,289.64 L674.20,289.74 L674.90,289.83 L675.60,289.92 L676.30,290.02 L677.00,290.11 L677.70,290.21 L678.40,290.31 L679.10,290.41 L679.80,290.51 L680.50,290.61 L681.20,290.71 L681.90,290.81" fill="none" stroke="#000" stroke-width="1.2"/>
<line x1="471" y1="225.2" x2="525" y2="224.8" stroke="#d2373c" stroke-width="1.3"/>
<path d="M468.4,225.2 L473,223 L472.3,225.2 L473,227.4 Z" fill="#d2373c"/>
<path d="M527.8,224.8 L523.2,222.6 L523.9,224.8 L523.2,227 Z" fill="#d2373c"/>
<circle cx="486.2" cy="213" r="1.8" fill="#d2373c"/>
<line x1="383.45" y1="196.4" x2="383.45" y2="321.3" class="ax"/>
<line x1="383.45" y1="321.3" x2="682.5" y2="321.3" class="ax"/>
<line x1="383.45" y1="321.3" x2="383.45" y2="318.3" class="tk"/>
<text x="383.45" y="333.5" class="tl" text-anchor="middle">0</text>
<line x1="413.36" y1="321.3" x2="413.36" y2="318.3" class="tk"/>
<text x="413.36" y="333.5" class="tl" text-anchor="middle">0.2</text>
<line x1="443.26" y1="321.3" x2="443.26" y2="318.3" class="tk"/>
<text x="443.26" y="333.5" class="tl" text-anchor="middle">0.4</text>
<line x1="473.17" y1="321.3" x2="473.17" y2="318.3" class="tk"/>
<text x="473.17" y="333.5" class="tl" text-anchor="middle">0.6</text>
<line x1="503.07" y1="321.3" x2="503.07" y2="318.3" class="tk"/>
<text x="503.07" y="333.5" class="tl" text-anchor="middle">0.8</text>
<line x1="532.98" y1="321.3" x2="532.98" y2="318.3" class="tk"/>
<text x="532.98" y="333.5" class="tl" text-anchor="middle">1</text>
<line x1="562.88" y1="321.3" x2="562.88" y2="318.3" class="tk"/>
<text x="562.88" y="333.5" class="tl" text-anchor="middle">1.2</text>
<line x1="592.79" y1="321.3" x2="592.79" y2="318.3" class="tk"/>
<text x="592.79" y="333.5" class="tl" text-anchor="middle">1.4</text>
<line x1="622.69" y1="321.3" x2="622.69" y2="318.3" class="tk"/>
<text x="622.69" y="333.5" class="tl" text-anchor="middle">1.6</text>
<line x1="652.6" y1="321.3" x2="652.6" y2="318.3" class="tk"/>
<text x="652.6" y="333.5" class="tl" text-anchor="middle">1.8</text>
<line x1="682.5" y1="321.3" x2="682.5" y2="318.3" class="tk"/>
<text x="682.5" y="333.5" class="tl" text-anchor="middle">2</text>
<line x1="383.45" y1="321.3" x2="386.45" y2="321.3" class="tk"/>
<text x="380.55" y="325.6" class="tl" text-anchor="end">160</text>
<line x1="383.45" y1="303.46" x2="386.45" y2="303.46" class="tk"/>
<text x="380.55" y="307.76" class="tl" text-anchor="end">170</text>
<line x1="383.45" y1="285.61" x2="386.45" y2="285.61" class="tk"/>
<text x="380.55" y="289.91" class="tl" text-anchor="end">180</text>
<line x1="383.45" y1="267.77" x2="386.45" y2="267.77" class="tk"/>
<text x="380.55" y="272.07" class="tl" text-anchor="end">190</text>
<line x1="383.45" y1="249.93" x2="386.45" y2="249.93" class="tk"/>
<text x="380.55" y="254.23" class="tl" text-anchor="end">200</text>
<line x1="383.45" y1="232.09" x2="386.45" y2="232.09" class="tk"/>
<text x="380.55" y="236.39" class="tl" text-anchor="end">210</text>
<line x1="383.45" y1="214.24" x2="386.45" y2="214.24" class="tk"/>
<text x="380.55" y="218.54" class="tl" text-anchor="end">220</text>
<line x1="383.45" y1="196.4" x2="386.45" y2="196.4" class="tk"/>
<text x="380.55" y="200.7" class="tl" text-anchor="end">230</text>
<text x="477.6" y="209.7" class="an">SPL<tspan font-size="8.6" dy="1.1">max</tspan></text>
<text x="464.8" y="239.8" class="an">BW ≈ 400 kHz</text>
<text x="542.8" y="228.6" class="an">modes are merging</text>
<text x="542.8" y="240.5" class="an">in one large band</text>
<text x="427.6" y="189.1" class="ti">Sound Pressure Level (water/tissue)</text>
<text x="532.7" y="345.6" class="xl" text-anchor="middle">f (MHz)</text>
<text transform="translate(359.6,258.9) rotate(-90)" class="xl" text-anchor="middle">SPL (dB)</text>
<text x="350.6" y="188.9" class="pl">d</text>
</svg>
</body></html>
